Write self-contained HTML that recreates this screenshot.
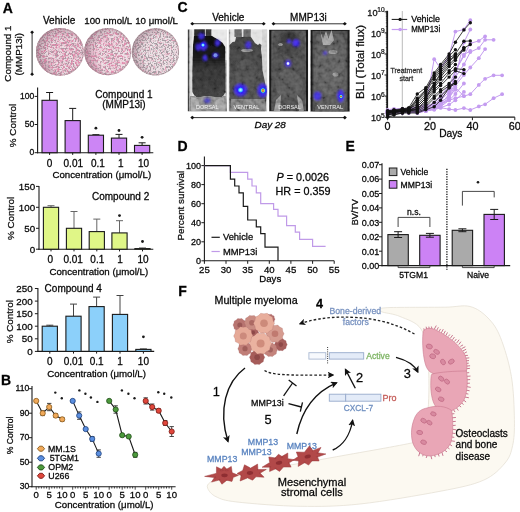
<!DOCTYPE html>
<html><head><meta charset="utf-8"><style>
html,body{margin:0;padding:0;background:#fff;}
svg{display:block;}
svg text{font-family:"Liberation Sans", sans-serif;}
</style></head><body>
<svg xmlns="http://www.w3.org/2000/svg" width="520" height="512" viewBox="0 0 520 512" font-family="&quot;Liberation Sans&quot;, sans-serif">
<rect width="520" height="512" fill="#fff"/>
<text x="2.8" y="12.6" font-size="14" stroke="#111" stroke-width="0.28" font-weight="bold">A</text>
<text x="59.1" y="23.5" font-size="10.0" text-anchor="middle" stroke="#111" stroke-width="0.28">Vehicle</text>
<text x="108.3" y="23.7" font-size="9.7" text-anchor="middle" stroke="#111" stroke-width="0.28">100 nmol/L</text>
<text x="156.6" y="23.7" font-size="9.7" text-anchor="middle" stroke="#111" stroke-width="0.28">10 &#956;mol/L</text>
<text transform="translate(11.3,53.6) rotate(-90)" font-size="9.8" text-anchor="middle" fill="#111" stroke="#111" stroke-width="0.28">Compound 1</text>
<text transform="translate(21.6,54.2) rotate(-90)" font-size="9.8" text-anchor="middle" fill="#111" stroke="#111" stroke-width="0.28">(MMP13i)</text>
<line x1="32.1" y1="32.3" x2="32.1" y2="74.2" stroke="#333" stroke-width="1.0"/>
<path d="M30.2,32.3 L32.1,30.5 L34,32.3 L32.1,34.1 Z" fill="#111"/>
<path d="M30.2,74.2 L32.1,72.4 L34,74.2 L32.1,76.0 Z" fill="#111"/>
<filter id="dsb1" x="-5%" y="-5%" width="110%" height="110%"><feGaussianBlur stdDeviation="0.55"/></filter>
<radialGradient id="dsh1" cx="0.62" cy="0.55" r="0.62"><stop offset="0.6" stop-color="#8a6a78" stop-opacity="0"/><stop offset="1" stop-color="#7a5a68" stop-opacity="0.45"/></radialGradient>
<g filter="url(#dsb1)">
<circle cx="59.9" cy="51.9" r="23.9" fill="#ecdfe4" stroke="none" stroke-width="1.0"/>
<filter id="dn1_0" filterUnits="userSpaceOnUse" x="34.0" y="26.0" width="51.8" height="51.8"><feTurbulence type="fractalNoise" baseFrequency="0.05" numOctaves="2" seed="4"/><feColorMatrix type="matrix" values="0 0 0 0 0.627 0 0 0 0 0.471 0 0 0 0 0.529 0 4 0 0 -2.15"/><feComposite operator="in" in2="SourceGraphic"/></filter>
<circle cx="59.9" cy="51.9" r="23.9" fill="#000" stroke="none" stroke-width="1.0" filter="url(#dn1_0)"/>
<filter id="dn1_1" filterUnits="userSpaceOnUse" x="34.0" y="26.0" width="51.8" height="51.8"><feTurbulence type="fractalNoise" baseFrequency="0.4" numOctaves="2" seed="33"/><feColorMatrix type="matrix" values="0 0 0 0 0.843 0 0 0 0 0.549 0 0 0 0 0.651 0 0 5 0 -2.15"/><feComposite operator="in" in2="SourceGraphic"/></filter>
<circle cx="59.9" cy="51.9" r="23.9" fill="#000" stroke="none" stroke-width="1.0" filter="url(#dn1_1)"/>
<filter id="dn1_2" filterUnits="userSpaceOnUse" x="34.0" y="26.0" width="51.8" height="51.8"><feTurbulence type="fractalNoise" baseFrequency="0.45" numOctaves="2" seed="3"/><feColorMatrix type="matrix" values="0 0 0 0 0.753 0 0 0 0 0.251 0 0 0 0 0.408 6 0 0 0 -2.95"/><feComposite operator="in" in2="SourceGraphic"/></filter>
<circle cx="59.9" cy="51.9" r="23.9" fill="#000" stroke="none" stroke-width="1.0" filter="url(#dn1_2)"/>
<filter id="dn1_3" filterUnits="userSpaceOnUse" x="34.0" y="26.0" width="51.8" height="51.8"><feTurbulence type="fractalNoise" baseFrequency="0.6" numOctaves="2" seed="13"/><feColorMatrix type="matrix" values="0 0 0 0 0.439 0 0 0 0 0.306 0 0 0 0 0.369 0 6 0 0 -3.0"/><feComposite operator="in" in2="SourceGraphic"/></filter>
<circle cx="59.9" cy="51.9" r="23.9" fill="#000" stroke="none" stroke-width="1.0" filter="url(#dn1_3)"/>
<circle cx="59.9" cy="51.9" r="23.9" fill="url(#dsh1)" stroke="none" stroke-width="1.0"/>
<circle cx="59.9" cy="51.9" r="23.299999999999997" fill="none" stroke="#9a8088" stroke-width="1.2" stroke-opacity="0.4"/>
</g>
<filter id="dsb2" x="-5%" y="-5%" width="110%" height="110%"><feGaussianBlur stdDeviation="0.55"/></filter>
<radialGradient id="dsh2" cx="0.62" cy="0.55" r="0.62"><stop offset="0.6" stop-color="#8a6a78" stop-opacity="0"/><stop offset="1" stop-color="#7a5a68" stop-opacity="0.45"/></radialGradient>
<g filter="url(#dsb2)">
<circle cx="107.8" cy="51.6" r="23.6" fill="#eee3e7" stroke="none" stroke-width="1.0"/>
<filter id="dn2_0" filterUnits="userSpaceOnUse" x="82.2" y="26.0" width="51.2" height="51.2"><feTurbulence type="fractalNoise" baseFrequency="0.05" numOctaves="2" seed="6"/><feColorMatrix type="matrix" values="0 0 0 0 0.831 0 0 0 0 0.471 0 0 0 0 0.608 4 0 0 0 -1.95"/><feComposite operator="in" in2="SourceGraphic"/></filter>
<circle cx="107.8" cy="51.6" r="23.6" fill="#000" stroke="none" stroke-width="1.0" filter="url(#dn2_0)"/>
<filter id="dn2_1" filterUnits="userSpaceOnUse" x="82.2" y="26.0" width="51.2" height="51.2"><feTurbulence type="fractalNoise" baseFrequency="0.4" numOctaves="2" seed="35"/><feColorMatrix type="matrix" values="0 0 0 0 0.855 0 0 0 0 0.580 0 0 0 0 0.675 0 0 5 0 -2.25"/><feComposite operator="in" in2="SourceGraphic"/></filter>
<circle cx="107.8" cy="51.6" r="23.6" fill="#000" stroke="none" stroke-width="1.0" filter="url(#dn2_1)"/>
<filter id="dn2_2" filterUnits="userSpaceOnUse" x="82.2" y="26.0" width="51.2" height="51.2"><feTurbulence type="fractalNoise" baseFrequency="0.45" numOctaves="2" seed="5"/><feColorMatrix type="matrix" values="0 0 0 0 0.761 0 0 0 0 0.267 0 0 0 0 0.424 6 0 0 0 -3.05"/><feComposite operator="in" in2="SourceGraphic"/></filter>
<circle cx="107.8" cy="51.6" r="23.6" fill="#000" stroke="none" stroke-width="1.0" filter="url(#dn2_2)"/>
<filter id="dn2_3" filterUnits="userSpaceOnUse" x="82.2" y="26.0" width="51.2" height="51.2"><feTurbulence type="fractalNoise" baseFrequency="0.6" numOctaves="2" seed="15"/><feColorMatrix type="matrix" values="0 0 0 0 0.455 0 0 0 0 0.329 0 0 0 0 0.384 0 6 0 0 -3.1"/><feComposite operator="in" in2="SourceGraphic"/></filter>
<circle cx="107.8" cy="51.6" r="23.6" fill="#000" stroke="none" stroke-width="1.0" filter="url(#dn2_3)"/>
<circle cx="107.8" cy="51.6" r="23.6" fill="url(#dsh2)" stroke="none" stroke-width="1.0"/>
<circle cx="107.8" cy="51.6" r="23.0" fill="none" stroke="#9a8088" stroke-width="1.2" stroke-opacity="0.4"/>
</g>
<filter id="dsb3" x="-5%" y="-5%" width="110%" height="110%"><feGaussianBlur stdDeviation="0.55"/></filter>
<radialGradient id="dsh3" cx="0.62" cy="0.55" r="0.62"><stop offset="0.6" stop-color="#8a6a78" stop-opacity="0"/><stop offset="1" stop-color="#7a5a68" stop-opacity="0.45"/></radialGradient>
<g filter="url(#dsb3)">
<circle cx="155.5" cy="51.9" r="23.6" fill="#eee6e9" stroke="none" stroke-width="1.0"/>
<filter id="dn3_0" filterUnits="userSpaceOnUse" x="129.9" y="26.3" width="51.2" height="51.2"><feTurbulence type="fractalNoise" baseFrequency="0.4" numOctaves="2" seed="38"/><feColorMatrix type="matrix" values="0 0 0 0 0.847 0 0 0 0 0.647 0 0 0 0 0.714 0 0 5 0 -2.35"/><feComposite operator="in" in2="SourceGraphic"/></filter>
<circle cx="155.5" cy="51.9" r="23.6" fill="#000" stroke="none" stroke-width="1.0" filter="url(#dn3_0)"/>
<filter id="dn3_1" filterUnits="userSpaceOnUse" x="129.9" y="26.3" width="51.2" height="51.2"><feTurbulence type="fractalNoise" baseFrequency="0.45" numOctaves="2" seed="8"/><feColorMatrix type="matrix" values="0 0 0 0 0.769 0 0 0 0 0.361 0 0 0 0 0.486 6 0 0 0 -3.35"/><feComposite operator="in" in2="SourceGraphic"/></filter>
<circle cx="155.5" cy="51.9" r="23.6" fill="#000" stroke="none" stroke-width="1.0" filter="url(#dn3_1)"/>
<filter id="dn3_2" filterUnits="userSpaceOnUse" x="129.9" y="26.3" width="51.2" height="51.2"><feTurbulence type="fractalNoise" baseFrequency="0.6" numOctaves="2" seed="18"/><feColorMatrix type="matrix" values="0 0 0 0 0.384 0 0 0 0 0.337 0 0 0 0 0.365 0 6 0 0 -2.85"/><feComposite operator="in" in2="SourceGraphic"/></filter>
<circle cx="155.5" cy="51.9" r="23.6" fill="#000" stroke="none" stroke-width="1.0" filter="url(#dn3_2)"/>
<circle cx="155.5" cy="51.9" r="23.6" fill="url(#dsh3)" stroke="none" stroke-width="1.0"/>
<circle cx="155.5" cy="51.9" r="23.0" fill="none" stroke="#9a8088" stroke-width="1.2" stroke-opacity="0.4"/>
</g>
<line x1="37.6" y1="87.5" x2="37.6" y2="153.2" stroke="#1a1a1a" stroke-width="1.1"/>
<line x1="37.1" y1="152.7" x2="153.3" y2="152.7" stroke="#1a1a1a" stroke-width="1.1"/>
<line x1="34.6" y1="152.7" x2="37.6" y2="152.7" stroke="#1a1a1a" stroke-width="1.0"/>
<text x="34.3" y="155.4" font-size="8.6" text-anchor="end" stroke="#111" stroke-width="0.28">0</text>
<line x1="34.6" y1="124.5" x2="37.6" y2="124.5" stroke="#1a1a1a" stroke-width="1.0"/>
<text x="34.3" y="127.2" font-size="8.6" text-anchor="end" stroke="#111" stroke-width="0.28">50</text>
<line x1="34.6" y1="96.4" x2="37.6" y2="96.4" stroke="#1a1a1a" stroke-width="1.0"/>
<text x="34.3" y="99.1" font-size="8.6" text-anchor="end" stroke="#111" stroke-width="0.28">100</text>
<line x1="49.6" y1="92.5" x2="49.6" y2="100.3" stroke="#1a1a1a" stroke-width="1.0"/>
<line x1="46.1" y1="92.5" x2="53.1" y2="92.5" stroke="#1a1a1a" stroke-width="1.0"/>
<rect x="42.0" y="100.3" width="15.2" height="52.4" fill="#cc85f5" stroke="#1a1a1a" stroke-width="1.1"/>
<line x1="49.6" y1="152.7" x2="49.6" y2="154.9" stroke="#1a1a1a" stroke-width="1.0"/>
<text x="49.6" y="166.5" font-size="10.0" text-anchor="middle" stroke="#111" stroke-width="0.28">0</text>
<line x1="72.7" y1="108.4" x2="72.7" y2="120.6" stroke="#1a1a1a" stroke-width="1.0"/>
<line x1="69.2" y1="108.4" x2="76.2" y2="108.4" stroke="#1a1a1a" stroke-width="1.0"/>
<rect x="65.1" y="120.6" width="15.2" height="32.1" fill="#cc85f5" stroke="#1a1a1a" stroke-width="1.1"/>
<line x1="72.7" y1="152.7" x2="72.7" y2="154.9" stroke="#1a1a1a" stroke-width="1.0"/>
<text x="73.3" y="166.5" font-size="10.0" text-anchor="middle" stroke="#111" stroke-width="0.28">0.01</text>
<line x1="95.9" y1="134.7" x2="95.9" y2="135.2" stroke="#1a1a1a" stroke-width="1.0"/>
<line x1="92.4" y1="134.7" x2="99.4" y2="134.7" stroke="#1a1a1a" stroke-width="1.0"/>
<rect x="88.3" y="135.2" width="15.2" height="17.5" fill="#cc85f5" stroke="#1a1a1a" stroke-width="1.1"/>
<line x1="95.9" y1="152.7" x2="95.9" y2="154.9" stroke="#1a1a1a" stroke-width="1.0"/>
<text x="97.9" y="166.5" font-size="10.0" text-anchor="middle" stroke="#111" stroke-width="0.28">0.1</text>
<circle cx="95.9" cy="128.2" r="1.4" fill="#1a1a1a" stroke="none" stroke-width="1.0"/>
<line x1="119.0" y1="134.4" x2="119.0" y2="138.1" stroke="#1a1a1a" stroke-width="1.0"/>
<line x1="115.5" y1="134.4" x2="122.5" y2="134.4" stroke="#1a1a1a" stroke-width="1.0"/>
<rect x="111.4" y="138.1" width="15.2" height="14.6" fill="#cc85f5" stroke="#1a1a1a" stroke-width="1.1"/>
<line x1="119.0" y1="152.7" x2="119.0" y2="154.9" stroke="#1a1a1a" stroke-width="1.0"/>
<text x="120.8" y="166.5" font-size="10.0" text-anchor="middle" stroke="#111" stroke-width="0.28">1</text>
<circle cx="119.0" cy="130.5" r="1.4" fill="#1a1a1a" stroke="none" stroke-width="1.0"/>
<line x1="142.1" y1="142.8" x2="142.1" y2="145.4" stroke="#1a1a1a" stroke-width="1.0"/>
<line x1="138.6" y1="142.8" x2="145.6" y2="142.8" stroke="#1a1a1a" stroke-width="1.0"/>
<rect x="134.5" y="145.4" width="15.2" height="7.3" fill="#cc85f5" stroke="#1a1a1a" stroke-width="1.1"/>
<line x1="142.1" y1="152.7" x2="142.1" y2="154.9" stroke="#1a1a1a" stroke-width="1.0"/>
<text x="143.5" y="166.5" font-size="10.0" text-anchor="middle" stroke="#111" stroke-width="0.28">10</text>
<circle cx="142.1" cy="137.3" r="1.4" fill="#1a1a1a" stroke="none" stroke-width="1.0"/>
<text x="101.8" y="177.5" font-size="9.7" text-anchor="middle" stroke="#111" stroke-width="0.28">Concentration (&#956;mol/L)</text>
<text transform="translate(15.7,125.5) rotate(-90)" font-size="9.9" text-anchor="middle" fill="#111" stroke="#111" stroke-width="0.28">% Control</text>
<text x="123.9" y="97.8" font-size="10.0" text-anchor="middle" stroke="#111" stroke-width="0.28">Compound 1</text>
<text x="123.9" y="108.2" font-size="10.0" text-anchor="middle" stroke="#111" stroke-width="0.28">(MMP13i)</text>
<line x1="39.0" y1="186.0" x2="39.0" y2="249.7" stroke="#1a1a1a" stroke-width="1.1"/>
<line x1="38.5" y1="249.2" x2="153.3" y2="249.2" stroke="#1a1a1a" stroke-width="1.1"/>
<line x1="36.0" y1="249.2" x2="39.0" y2="249.2" stroke="#1a1a1a" stroke-width="1.0"/>
<text x="35.2" y="252.6" font-size="9.8" text-anchor="end" stroke="#111" stroke-width="0.28">0</text>
<line x1="36.0" y1="228.3" x2="39.0" y2="228.3" stroke="#1a1a1a" stroke-width="1.0"/>
<text x="35.2" y="231.6" font-size="9.8" text-anchor="end" stroke="#111" stroke-width="0.28">50</text>
<line x1="36.0" y1="207.3" x2="39.0" y2="207.3" stroke="#1a1a1a" stroke-width="1.0"/>
<text x="35.2" y="210.7" font-size="9.8" text-anchor="end" stroke="#111" stroke-width="0.28">100</text>
<line x1="36.0" y1="186.4" x2="39.0" y2="186.4" stroke="#1a1a1a" stroke-width="1.0"/>
<text x="35.2" y="189.8" font-size="9.8" text-anchor="end" stroke="#111" stroke-width="0.28">150</text>
<line x1="51.0" y1="205.7" x2="51.0" y2="207.3" stroke="#666" stroke-width="1.0"/>
<line x1="47.5" y1="205.7" x2="54.5" y2="205.7" stroke="#666" stroke-width="1.0"/>
<rect x="43.4" y="207.3" width="15.2" height="41.9" fill="#e0f687" stroke="#1a1a1a" stroke-width="1.1"/>
<line x1="51.0" y1="249.2" x2="51.0" y2="251.4" stroke="#1a1a1a" stroke-width="1.0"/>
<text x="50.2" y="262.7" font-size="10.0" text-anchor="middle" stroke="#111" stroke-width="0.28">0</text>
<line x1="74.0" y1="211.5" x2="74.0" y2="228.3" stroke="#666" stroke-width="1.0"/>
<line x1="70.5" y1="211.5" x2="77.5" y2="211.5" stroke="#666" stroke-width="1.0"/>
<rect x="66.4" y="228.3" width="15.2" height="20.9" fill="#e0f687" stroke="#1a1a1a" stroke-width="1.1"/>
<line x1="74.0" y1="249.2" x2="74.0" y2="251.4" stroke="#1a1a1a" stroke-width="1.0"/>
<text x="73.2" y="262.7" font-size="10.0" text-anchor="middle" stroke="#111" stroke-width="0.28">0.01</text>
<line x1="96.8" y1="219.1" x2="96.8" y2="231.6" stroke="#666" stroke-width="1.0"/>
<line x1="93.3" y1="219.1" x2="100.3" y2="219.1" stroke="#666" stroke-width="1.0"/>
<rect x="89.2" y="231.6" width="15.2" height="17.6" fill="#e0f687" stroke="#1a1a1a" stroke-width="1.1"/>
<line x1="96.8" y1="249.2" x2="96.8" y2="251.4" stroke="#1a1a1a" stroke-width="1.0"/>
<text x="97.3" y="262.7" font-size="10.0" text-anchor="middle" stroke="#111" stroke-width="0.28">0.1</text>
<line x1="119.5" y1="220.7" x2="119.5" y2="232.9" stroke="#666" stroke-width="1.0"/>
<line x1="116.0" y1="220.7" x2="123.0" y2="220.7" stroke="#666" stroke-width="1.0"/>
<rect x="111.9" y="232.9" width="15.2" height="16.3" fill="#e0f687" stroke="#1a1a1a" stroke-width="1.1"/>
<line x1="119.5" y1="249.2" x2="119.5" y2="251.4" stroke="#1a1a1a" stroke-width="1.0"/>
<text x="120.0" y="262.7" font-size="10.0" text-anchor="middle" stroke="#111" stroke-width="0.28">1</text>
<circle cx="119.5" cy="215.6" r="1.4" fill="#1a1a1a" stroke="none" stroke-width="1.0"/>
<line x1="142.5" y1="247.9" x2="142.5" y2="248.6" stroke="#666" stroke-width="1.0"/>
<line x1="139.0" y1="247.9" x2="146.0" y2="247.9" stroke="#666" stroke-width="1.0"/>
<rect x="134.9" y="248.6" width="15.2" height="0.6" fill="#e0f687" stroke="#1a1a1a" stroke-width="1.1"/>
<line x1="142.5" y1="249.2" x2="142.5" y2="251.4" stroke="#1a1a1a" stroke-width="1.0"/>
<text x="143.0" y="262.7" font-size="10.0" text-anchor="middle" stroke="#111" stroke-width="0.28">10</text>
<circle cx="142.5" cy="241.5" r="1.4" fill="#1a1a1a" stroke="none" stroke-width="1.0"/>
<text x="98.8" y="274.5" font-size="9.7" text-anchor="middle" stroke="#111" stroke-width="0.28">Concentration (&#956;mol/L)</text>
<text transform="translate(13.7,218.4) rotate(-90)" font-size="9.9" text-anchor="middle" fill="#111" stroke="#111" stroke-width="0.28">% Control</text>
<text x="120.6" y="199.8" font-size="10.0" text-anchor="middle" stroke="#111" stroke-width="0.28">Compound 2</text>
<line x1="37.9" y1="288.0" x2="37.9" y2="351.9" stroke="#1a1a1a" stroke-width="1.1"/>
<line x1="37.4" y1="351.4" x2="154.2" y2="351.4" stroke="#1a1a1a" stroke-width="1.1"/>
<line x1="34.9" y1="351.4" x2="37.9" y2="351.4" stroke="#1a1a1a" stroke-width="1.0"/>
<text x="32.7" y="354.8" font-size="9.8" text-anchor="end" stroke="#111" stroke-width="0.28">0</text>
<line x1="34.9" y1="338.8" x2="37.9" y2="338.8" stroke="#1a1a1a" stroke-width="1.0"/>
<text x="32.7" y="342.2" font-size="9.8" text-anchor="end" stroke="#111" stroke-width="0.28">50</text>
<line x1="34.9" y1="326.2" x2="37.9" y2="326.2" stroke="#1a1a1a" stroke-width="1.0"/>
<text x="32.7" y="329.6" font-size="9.8" text-anchor="end" stroke="#111" stroke-width="0.28">100</text>
<line x1="34.9" y1="313.7" x2="37.9" y2="313.7" stroke="#1a1a1a" stroke-width="1.0"/>
<text x="32.7" y="317.0" font-size="9.8" text-anchor="end" stroke="#111" stroke-width="0.28">150</text>
<line x1="34.9" y1="301.1" x2="37.9" y2="301.1" stroke="#1a1a1a" stroke-width="1.0"/>
<text x="32.7" y="304.5" font-size="9.8" text-anchor="end" stroke="#111" stroke-width="0.28">200</text>
<line x1="34.9" y1="288.5" x2="37.9" y2="288.5" stroke="#1a1a1a" stroke-width="1.0"/>
<text x="32.7" y="291.9" font-size="9.8" text-anchor="end" stroke="#111" stroke-width="0.28">250</text>
<line x1="49.8" y1="325.2" x2="49.8" y2="326.2" stroke="#444" stroke-width="1.0"/>
<line x1="46.3" y1="325.2" x2="53.3" y2="325.2" stroke="#444" stroke-width="1.0"/>
<rect x="42.2" y="326.2" width="15.2" height="25.2" fill="#8cd0fa" stroke="#1a1a1a" stroke-width="1.1"/>
<line x1="49.8" y1="351.4" x2="49.8" y2="353.6" stroke="#1a1a1a" stroke-width="1.0"/>
<text x="49.8" y="364.7" font-size="10.0" text-anchor="middle" stroke="#111" stroke-width="0.28">0</text>
<line x1="73.5" y1="304.1" x2="73.5" y2="316.2" stroke="#444" stroke-width="1.0"/>
<line x1="70.0" y1="304.1" x2="77.0" y2="304.1" stroke="#444" stroke-width="1.0"/>
<rect x="65.9" y="316.2" width="15.2" height="35.2" fill="#8cd0fa" stroke="#1a1a1a" stroke-width="1.1"/>
<line x1="73.5" y1="351.4" x2="73.5" y2="353.6" stroke="#1a1a1a" stroke-width="1.0"/>
<text x="73.5" y="364.7" font-size="10.0" text-anchor="middle" stroke="#111" stroke-width="0.28">0.01</text>
<line x1="96.6" y1="297.1" x2="96.6" y2="306.6" stroke="#444" stroke-width="1.0"/>
<line x1="93.1" y1="297.1" x2="100.1" y2="297.1" stroke="#444" stroke-width="1.0"/>
<rect x="89.0" y="306.6" width="15.2" height="44.8" fill="#8cd0fa" stroke="#1a1a1a" stroke-width="1.1"/>
<line x1="96.6" y1="351.4" x2="96.6" y2="353.6" stroke="#1a1a1a" stroke-width="1.0"/>
<text x="96.6" y="364.7" font-size="10.0" text-anchor="middle" stroke="#111" stroke-width="0.28">0.1</text>
<line x1="120.0" y1="295.5" x2="120.0" y2="314.4" stroke="#444" stroke-width="1.0"/>
<line x1="116.5" y1="295.5" x2="123.5" y2="295.5" stroke="#444" stroke-width="1.0"/>
<rect x="112.4" y="314.4" width="15.2" height="37.0" fill="#8cd0fa" stroke="#1a1a1a" stroke-width="1.1"/>
<line x1="120.0" y1="351.4" x2="120.0" y2="353.6" stroke="#1a1a1a" stroke-width="1.0"/>
<text x="120.0" y="364.7" font-size="10.0" text-anchor="middle" stroke="#111" stroke-width="0.28">1</text>
<line x1="143.4" y1="348.9" x2="143.4" y2="349.4" stroke="#444" stroke-width="1.0"/>
<line x1="139.9" y1="348.9" x2="146.9" y2="348.9" stroke="#444" stroke-width="1.0"/>
<rect x="135.8" y="349.4" width="15.2" height="2.0" fill="#8cd0fa" stroke="#1a1a1a" stroke-width="1.1"/>
<line x1="143.4" y1="351.4" x2="143.4" y2="353.6" stroke="#1a1a1a" stroke-width="1.0"/>
<text x="143.4" y="364.7" font-size="10.0" text-anchor="middle" stroke="#111" stroke-width="0.28">10</text>
<circle cx="143.4" cy="336.8" r="1.4" fill="#1a1a1a" stroke="none" stroke-width="1.0"/>
<text x="96.6" y="377.0" font-size="9.7" text-anchor="middle" stroke="#111" stroke-width="0.28">Concentration (&#956;mol/L)</text>
<text transform="translate(13.3,321.7) rotate(-90)" font-size="9.9" text-anchor="middle" fill="#111" stroke="#111" stroke-width="0.28">% Control</text>
<text x="44.6" y="291.8" font-size="10.0" stroke="#111" stroke-width="0.28">Compound 4</text>
<text x="1.1" y="385.0" font-size="14" stroke="#111" stroke-width="0.28" font-weight="bold">B</text>
<line x1="32.0" y1="386.0" x2="32.0" y2="487.2" stroke="#1a1a1a" stroke-width="1.1"/>
<line x1="31.5" y1="486.7" x2="175.6" y2="486.7" stroke="#1a1a1a" stroke-width="1.1"/>
<line x1="29.0" y1="486.7" x2="32.0" y2="486.7" stroke="#1a1a1a" stroke-width="1.0"/>
<text x="29.3" y="489.2" font-size="8.6" text-anchor="end" stroke="#111" stroke-width="0.28">30</text>
<line x1="29.0" y1="462.2" x2="32.0" y2="462.2" stroke="#1a1a1a" stroke-width="1.0"/>
<text x="29.3" y="464.6" font-size="8.6" text-anchor="end" stroke="#111" stroke-width="0.28">50</text>
<line x1="29.0" y1="437.7" x2="32.0" y2="437.7" stroke="#1a1a1a" stroke-width="1.0"/>
<text x="29.3" y="440.1" font-size="8.6" text-anchor="end" stroke="#111" stroke-width="0.28">70</text>
<line x1="29.0" y1="413.2" x2="32.0" y2="413.2" stroke="#1a1a1a" stroke-width="1.0"/>
<text x="29.3" y="415.6" font-size="8.6" text-anchor="end" stroke="#111" stroke-width="0.28">90</text>
<line x1="29.0" y1="388.7" x2="32.0" y2="388.7" stroke="#1a1a1a" stroke-width="1.0"/>
<text x="29.3" y="391.1" font-size="8.6" text-anchor="end" stroke="#111" stroke-width="0.28">110</text>
<text transform="translate(12.7,435.4) rotate(-90)" font-size="8.6" text-anchor="middle" fill="#111" stroke="#111" stroke-width="0.28">% Control</text>
<line x1="36.2" y1="486.7" x2="36.2" y2="489.7" stroke="#1a1a1a" stroke-width="0.8"/>
<line x1="38.8" y1="486.7" x2="38.8" y2="488.5" stroke="#1a1a1a" stroke-width="0.8"/>
<line x1="41.4" y1="486.7" x2="41.4" y2="488.5" stroke="#1a1a1a" stroke-width="0.8"/>
<line x1="44.0" y1="486.7" x2="44.0" y2="488.5" stroke="#1a1a1a" stroke-width="0.8"/>
<line x1="46.6" y1="486.7" x2="46.6" y2="488.5" stroke="#1a1a1a" stroke-width="0.8"/>
<line x1="49.2" y1="486.7" x2="49.2" y2="489.7" stroke="#1a1a1a" stroke-width="0.8"/>
<line x1="51.8" y1="486.7" x2="51.8" y2="488.5" stroke="#1a1a1a" stroke-width="0.8"/>
<line x1="54.4" y1="486.7" x2="54.4" y2="488.5" stroke="#1a1a1a" stroke-width="0.8"/>
<line x1="57.0" y1="486.7" x2="57.0" y2="488.5" stroke="#1a1a1a" stroke-width="0.8"/>
<line x1="59.6" y1="486.7" x2="59.6" y2="488.5" stroke="#1a1a1a" stroke-width="0.8"/>
<line x1="62.2" y1="486.7" x2="62.2" y2="489.7" stroke="#1a1a1a" stroke-width="0.8"/>
<text x="36.2" y="497.5" font-size="9.6" text-anchor="middle" stroke="#111" stroke-width="0.28">0</text>
<text x="49.2" y="497.5" font-size="9.6" text-anchor="middle" stroke="#111" stroke-width="0.28">5</text>
<text x="62.2" y="497.5" font-size="9.6" text-anchor="middle" stroke="#111" stroke-width="0.28">10</text>
<line x1="72.7" y1="486.7" x2="72.7" y2="489.7" stroke="#1a1a1a" stroke-width="0.8"/>
<line x1="75.3" y1="486.7" x2="75.3" y2="488.5" stroke="#1a1a1a" stroke-width="0.8"/>
<line x1="77.9" y1="486.7" x2="77.9" y2="488.5" stroke="#1a1a1a" stroke-width="0.8"/>
<line x1="80.5" y1="486.7" x2="80.5" y2="488.5" stroke="#1a1a1a" stroke-width="0.8"/>
<line x1="83.1" y1="486.7" x2="83.1" y2="488.5" stroke="#1a1a1a" stroke-width="0.8"/>
<line x1="85.7" y1="486.7" x2="85.7" y2="489.7" stroke="#1a1a1a" stroke-width="0.8"/>
<line x1="88.3" y1="486.7" x2="88.3" y2="488.5" stroke="#1a1a1a" stroke-width="0.8"/>
<line x1="90.9" y1="486.7" x2="90.9" y2="488.5" stroke="#1a1a1a" stroke-width="0.8"/>
<line x1="93.5" y1="486.7" x2="93.5" y2="488.5" stroke="#1a1a1a" stroke-width="0.8"/>
<line x1="96.1" y1="486.7" x2="96.1" y2="488.5" stroke="#1a1a1a" stroke-width="0.8"/>
<line x1="98.7" y1="486.7" x2="98.7" y2="489.7" stroke="#1a1a1a" stroke-width="0.8"/>
<text x="72.7" y="497.5" font-size="9.6" text-anchor="middle" stroke="#111" stroke-width="0.28">0</text>
<text x="85.7" y="497.5" font-size="9.6" text-anchor="middle" stroke="#111" stroke-width="0.28">5</text>
<text x="98.7" y="497.5" font-size="9.6" text-anchor="middle" stroke="#111" stroke-width="0.28">10</text>
<line x1="109.2" y1="486.7" x2="109.2" y2="489.7" stroke="#1a1a1a" stroke-width="0.8"/>
<line x1="111.8" y1="486.7" x2="111.8" y2="488.5" stroke="#1a1a1a" stroke-width="0.8"/>
<line x1="114.4" y1="486.7" x2="114.4" y2="488.5" stroke="#1a1a1a" stroke-width="0.8"/>
<line x1="117.0" y1="486.7" x2="117.0" y2="488.5" stroke="#1a1a1a" stroke-width="0.8"/>
<line x1="119.6" y1="486.7" x2="119.6" y2="488.5" stroke="#1a1a1a" stroke-width="0.8"/>
<line x1="122.2" y1="486.7" x2="122.2" y2="489.7" stroke="#1a1a1a" stroke-width="0.8"/>
<line x1="124.8" y1="486.7" x2="124.8" y2="488.5" stroke="#1a1a1a" stroke-width="0.8"/>
<line x1="127.4" y1="486.7" x2="127.4" y2="488.5" stroke="#1a1a1a" stroke-width="0.8"/>
<line x1="130.0" y1="486.7" x2="130.0" y2="488.5" stroke="#1a1a1a" stroke-width="0.8"/>
<line x1="132.6" y1="486.7" x2="132.6" y2="488.5" stroke="#1a1a1a" stroke-width="0.8"/>
<line x1="135.2" y1="486.7" x2="135.2" y2="489.7" stroke="#1a1a1a" stroke-width="0.8"/>
<text x="109.2" y="497.5" font-size="9.6" text-anchor="middle" stroke="#111" stroke-width="0.28">0</text>
<text x="122.2" y="497.5" font-size="9.6" text-anchor="middle" stroke="#111" stroke-width="0.28">5</text>
<text x="135.2" y="497.5" font-size="9.6" text-anchor="middle" stroke="#111" stroke-width="0.28">10</text>
<line x1="145.7" y1="486.7" x2="145.7" y2="489.7" stroke="#1a1a1a" stroke-width="0.8"/>
<line x1="148.3" y1="486.7" x2="148.3" y2="488.5" stroke="#1a1a1a" stroke-width="0.8"/>
<line x1="150.9" y1="486.7" x2="150.9" y2="488.5" stroke="#1a1a1a" stroke-width="0.8"/>
<line x1="153.5" y1="486.7" x2="153.5" y2="488.5" stroke="#1a1a1a" stroke-width="0.8"/>
<line x1="156.1" y1="486.7" x2="156.1" y2="488.5" stroke="#1a1a1a" stroke-width="0.8"/>
<line x1="158.7" y1="486.7" x2="158.7" y2="489.7" stroke="#1a1a1a" stroke-width="0.8"/>
<line x1="161.3" y1="486.7" x2="161.3" y2="488.5" stroke="#1a1a1a" stroke-width="0.8"/>
<line x1="163.9" y1="486.7" x2="163.9" y2="488.5" stroke="#1a1a1a" stroke-width="0.8"/>
<line x1="166.5" y1="486.7" x2="166.5" y2="488.5" stroke="#1a1a1a" stroke-width="0.8"/>
<line x1="169.1" y1="486.7" x2="169.1" y2="488.5" stroke="#1a1a1a" stroke-width="0.8"/>
<line x1="171.7" y1="486.7" x2="171.7" y2="489.7" stroke="#1a1a1a" stroke-width="0.8"/>
<text x="145.7" y="497.5" font-size="9.6" text-anchor="middle" stroke="#111" stroke-width="0.28">0</text>
<text x="158.7" y="497.5" font-size="9.6" text-anchor="middle" stroke="#111" stroke-width="0.28">5</text>
<text x="171.7" y="497.5" font-size="9.6" text-anchor="middle" stroke="#111" stroke-width="0.28">10</text>
<text x="104.2" y="508.1" font-size="9.7" text-anchor="middle" stroke="#111" stroke-width="0.28">Concentration (&#956;mol/L)</text>
<polyline points="36.2,400.9 42.7,413.2 49.2,407.0 55.7,415.6 62.2,419.3" fill="none" stroke="#1a1a1a" stroke-width="1.1"/>
<line x1="42.7" y1="410.7" x2="42.7" y2="415.6" stroke="#333" stroke-width="0.9"/>
<line x1="40.5" y1="410.7" x2="44.9" y2="410.7" stroke="#333" stroke-width="0.9"/>
<line x1="40.5" y1="415.6" x2="44.9" y2="415.6" stroke="#333" stroke-width="0.9"/>
<line x1="49.2" y1="403.4" x2="49.2" y2="410.7" stroke="#333" stroke-width="0.9"/>
<line x1="47.0" y1="403.4" x2="51.4" y2="403.4" stroke="#333" stroke-width="0.9"/>
<line x1="47.0" y1="410.7" x2="51.4" y2="410.7" stroke="#333" stroke-width="0.9"/>
<line x1="55.7" y1="413.8" x2="55.7" y2="417.5" stroke="#333" stroke-width="0.9"/>
<line x1="53.5" y1="413.8" x2="57.9" y2="413.8" stroke="#333" stroke-width="0.9"/>
<line x1="53.5" y1="417.5" x2="57.9" y2="417.5" stroke="#333" stroke-width="0.9"/>
<line x1="62.2" y1="417.5" x2="62.2" y2="421.1" stroke="#333" stroke-width="0.9"/>
<line x1="60.0" y1="417.5" x2="64.4" y2="417.5" stroke="#333" stroke-width="0.9"/>
<line x1="60.0" y1="421.1" x2="64.4" y2="421.1" stroke="#333" stroke-width="0.9"/>
<circle cx="36.2" cy="400.9" r="2.6" fill="#f0a95a" stroke="#8a5a1a" stroke-width="0.8"/>
<circle cx="42.7" cy="413.2" r="2.6" fill="#f0a95a" stroke="#8a5a1a" stroke-width="0.8"/>
<circle cx="49.2" cy="407.0" r="2.6" fill="#f0a95a" stroke="#8a5a1a" stroke-width="0.8"/>
<circle cx="55.7" cy="415.6" r="2.6" fill="#f0a95a" stroke="#8a5a1a" stroke-width="0.8"/>
<circle cx="62.2" cy="419.3" r="2.6" fill="#f0a95a" stroke="#8a5a1a" stroke-width="0.8"/>
<circle cx="55.3" cy="392.6" r="1.2" fill="#1a1a1a" stroke="none" stroke-width="1.0"/>
<circle cx="61.8" cy="398.2" r="1.2" fill="#1a1a1a" stroke="none" stroke-width="1.0"/>
<polyline points="72.7,400.9 79.2,415.6 85.7,429.1 92.2,438.9 98.7,453.6" fill="none" stroke="#1a1a1a" stroke-width="1.1"/>
<line x1="79.2" y1="411.9" x2="79.2" y2="419.3" stroke="#333" stroke-width="0.9"/>
<line x1="77.0" y1="411.9" x2="81.4" y2="411.9" stroke="#333" stroke-width="0.9"/>
<line x1="77.0" y1="419.3" x2="81.4" y2="419.3" stroke="#333" stroke-width="0.9"/>
<line x1="92.2" y1="436.5" x2="92.2" y2="441.4" stroke="#333" stroke-width="0.9"/>
<line x1="90.0" y1="436.5" x2="94.4" y2="436.5" stroke="#333" stroke-width="0.9"/>
<line x1="90.0" y1="441.4" x2="94.4" y2="441.4" stroke="#333" stroke-width="0.9"/>
<line x1="98.7" y1="449.9" x2="98.7" y2="457.3" stroke="#333" stroke-width="0.9"/>
<line x1="96.5" y1="449.9" x2="100.9" y2="449.9" stroke="#333" stroke-width="0.9"/>
<line x1="96.5" y1="457.3" x2="100.9" y2="457.3" stroke="#333" stroke-width="0.9"/>
<circle cx="72.7" cy="400.9" r="2.6" fill="#5b8fe0" stroke="#1d3f7a" stroke-width="0.8"/>
<circle cx="79.2" cy="415.6" r="2.6" fill="#5b8fe0" stroke="#1d3f7a" stroke-width="0.8"/>
<circle cx="85.7" cy="429.1" r="2.6" fill="#5b8fe0" stroke="#1d3f7a" stroke-width="0.8"/>
<circle cx="92.2" cy="438.9" r="2.6" fill="#5b8fe0" stroke="#1d3f7a" stroke-width="0.8"/>
<circle cx="98.7" cy="453.6" r="2.6" fill="#5b8fe0" stroke="#1d3f7a" stroke-width="0.8"/>
<circle cx="79.4" cy="390.4" r="1.2" fill="#1a1a1a" stroke="none" stroke-width="1.0"/>
<circle cx="85.4" cy="393.8" r="1.2" fill="#1a1a1a" stroke="none" stroke-width="1.0"/>
<circle cx="90.9" cy="397.5" r="1.2" fill="#1a1a1a" stroke="none" stroke-width="1.0"/>
<circle cx="97.4" cy="401.9" r="1.2" fill="#1a1a1a" stroke="none" stroke-width="1.0"/>
<polyline points="109.2,400.9 115.7,409.5 122.2,435.2 128.7,436.5 135.2,454.8" fill="none" stroke="#1a1a1a" stroke-width="1.1"/>
<line x1="115.7" y1="405.8" x2="115.7" y2="413.2" stroke="#333" stroke-width="0.9"/>
<line x1="113.5" y1="405.8" x2="117.9" y2="405.8" stroke="#333" stroke-width="0.9"/>
<line x1="113.5" y1="413.2" x2="117.9" y2="413.2" stroke="#333" stroke-width="0.9"/>
<line x1="135.2" y1="452.4" x2="135.2" y2="457.3" stroke="#333" stroke-width="0.9"/>
<line x1="133.0" y1="452.4" x2="137.4" y2="452.4" stroke="#333" stroke-width="0.9"/>
<line x1="133.0" y1="457.3" x2="137.4" y2="457.3" stroke="#333" stroke-width="0.9"/>
<circle cx="109.2" cy="400.9" r="2.6" fill="#4c9a3c" stroke="#1f4a16" stroke-width="0.8"/>
<circle cx="115.7" cy="409.5" r="2.6" fill="#4c9a3c" stroke="#1f4a16" stroke-width="0.8"/>
<circle cx="122.2" cy="435.2" r="2.6" fill="#4c9a3c" stroke="#1f4a16" stroke-width="0.8"/>
<circle cx="128.7" cy="436.5" r="2.6" fill="#4c9a3c" stroke="#1f4a16" stroke-width="0.8"/>
<circle cx="135.2" cy="454.8" r="2.6" fill="#4c9a3c" stroke="#1f4a16" stroke-width="0.8"/>
<circle cx="121.9" cy="390.4" r="1.2" fill="#1a1a1a" stroke="none" stroke-width="1.0"/>
<circle cx="128.4" cy="393.8" r="1.2" fill="#1a1a1a" stroke="none" stroke-width="1.0"/>
<circle cx="134.5" cy="398.2" r="1.2" fill="#1a1a1a" stroke="none" stroke-width="1.0"/>
<polyline points="145.7,400.9 152.2,407.0 158.7,410.7 165.2,423.0 171.7,431.5" fill="none" stroke="#1a1a1a" stroke-width="1.1"/>
<line x1="145.7" y1="397.8" x2="145.7" y2="404.0" stroke="#333" stroke-width="0.9"/>
<line x1="143.5" y1="397.8" x2="147.9" y2="397.8" stroke="#333" stroke-width="0.9"/>
<line x1="143.5" y1="404.0" x2="147.9" y2="404.0" stroke="#333" stroke-width="0.9"/>
<line x1="152.2" y1="404.0" x2="152.2" y2="410.1" stroke="#333" stroke-width="0.9"/>
<line x1="150.0" y1="404.0" x2="154.4" y2="404.0" stroke="#333" stroke-width="0.9"/>
<line x1="150.0" y1="410.1" x2="154.4" y2="410.1" stroke="#333" stroke-width="0.9"/>
<line x1="158.7" y1="408.9" x2="158.7" y2="412.6" stroke="#333" stroke-width="0.9"/>
<line x1="156.5" y1="408.9" x2="160.9" y2="408.9" stroke="#333" stroke-width="0.9"/>
<line x1="156.5" y1="412.6" x2="160.9" y2="412.6" stroke="#333" stroke-width="0.9"/>
<line x1="165.2" y1="420.5" x2="165.2" y2="425.4" stroke="#333" stroke-width="0.9"/>
<line x1="163.0" y1="420.5" x2="167.4" y2="420.5" stroke="#333" stroke-width="0.9"/>
<line x1="163.0" y1="425.4" x2="167.4" y2="425.4" stroke="#333" stroke-width="0.9"/>
<line x1="171.7" y1="426.6" x2="171.7" y2="436.5" stroke="#333" stroke-width="0.9"/>
<line x1="169.5" y1="426.6" x2="173.9" y2="426.6" stroke="#333" stroke-width="0.9"/>
<line x1="169.5" y1="436.5" x2="173.9" y2="436.5" stroke="#333" stroke-width="0.9"/>
<circle cx="145.7" cy="400.9" r="2.6" fill="#e0473c" stroke="#7a1a14" stroke-width="0.8"/>
<circle cx="152.2" cy="407.0" r="2.6" fill="#e0473c" stroke="#7a1a14" stroke-width="0.8"/>
<circle cx="158.7" cy="410.7" r="2.6" fill="#e0473c" stroke="#7a1a14" stroke-width="0.8"/>
<circle cx="165.2" cy="423.0" r="2.6" fill="#e0473c" stroke="#7a1a14" stroke-width="0.8"/>
<circle cx="171.7" cy="431.5" r="2.6" fill="#e0473c" stroke="#7a1a14" stroke-width="0.8"/>
<circle cx="158.3" cy="392.3" r="1.2" fill="#1a1a1a" stroke="none" stroke-width="1.0"/>
<circle cx="164.2" cy="393.8" r="1.2" fill="#1a1a1a" stroke="none" stroke-width="1.0"/>
<circle cx="171.3" cy="397.5" r="1.2" fill="#1a1a1a" stroke="none" stroke-width="1.0"/>
<path d="M37.4,448.7 L39.6,446.2 L42.4,446.2 L44.6,448.7 L42.4,451.2 L39.6,451.2 Z" fill="#f0a95a" stroke="#8a5a1a" stroke-width="0.9"/>
<text x="48.0" y="451.7" font-size="8.8" stroke="#111" stroke-width="0.28">MM.1S</text>
<path d="M37.4,458.3 L39.6,455.8 L42.4,455.8 L44.6,458.3 L42.4,460.8 L39.6,460.8 Z" fill="#5b8fe0" stroke="#1d3f7a" stroke-width="0.9"/>
<text x="49.7" y="461.3" font-size="8.8" stroke="#111" stroke-width="0.28">5TGM1</text>
<path d="M37.4,467.4 L39.6,464.9 L42.4,464.9 L44.6,467.4 L42.4,469.9 L39.6,469.9 Z" fill="#4c9a3c" stroke="#1f4a16" stroke-width="0.9"/>
<text x="48.3" y="470.4" font-size="8.8" stroke="#111" stroke-width="0.28">OPM2</text>
<path d="M37.4,475.8 L39.6,473.3 L42.4,473.3 L44.6,475.8 L42.4,478.3 L39.6,478.3 Z" fill="#e0473c" stroke="#7a1a14" stroke-width="0.9"/>
<text x="48.3" y="478.8" font-size="8.8" stroke="#111" stroke-width="0.28">U266</text>
<text x="177.4" y="12.2" font-size="14" stroke="#111" stroke-width="0.28" font-weight="bold">C</text>
<text x="228.3" y="21.0" font-size="10.0" text-anchor="middle" stroke="#111" stroke-width="0.28">Vehicle</text>
<text x="308.4" y="20.6" font-size="10.0" text-anchor="middle" stroke="#111" stroke-width="0.28">MMP13i</text>
<line x1="192.3" y1="23.7" x2="263.7" y2="23.7" stroke="#333" stroke-width="1.0"/>
<path d="M190.3,23.7 L192.3,21.9 L194.3,23.7 L192.3,25.5 Z" fill="#111"/>
<path d="M261.7,23.7 L263.7,21.9 L265.7,23.7 L263.7,25.5 Z" fill="#111"/>
<line x1="273.5" y1="23.8" x2="344.8" y2="23.8" stroke="#333" stroke-width="1.0"/>
<path d="M271.5,23.8 L273.5,22.0 L275.5,23.8 L273.5,25.6 Z" fill="#111"/>
<path d="M342.8,23.8 L344.8,22.0 L346.8,23.8 L344.8,25.6 Z" fill="#111"/>
<line x1="192.3" y1="117.6" x2="344.8" y2="117.6" stroke="#333" stroke-width="1.0"/>
<path d="M190.3,117.6 L192.3,115.8 L194.3,117.6 L192.3,119.4 Z" fill="#111"/>
<path d="M342.8,117.6 L344.8,115.8 L346.8,117.6 L344.8,119.4 Z" fill="#111"/>
<text x="270.2" y="127.6" font-size="9.9" text-anchor="middle" stroke="#111" stroke-width="0.28" font-style="italic">Day 28</text>
<defs>
<filter id="bl1" x="-5%" y="-5%" width="110%" height="110%"><feGaussianBlur stdDeviation="0.7"/></filter>
<filter id="bl2" x="-50%" y="-50%" width="200%" height="200%"><feGaussianBlur stdDeviation="1.1"/></filter>
<radialGradient id="bblob"><stop offset="0" stop-color="#c8ffff"/><stop offset="0.3" stop-color="#40c8ff"/><stop offset="0.55" stop-color="#2020ff"/><stop offset="1" stop-color="#3010d0" stop-opacity="0"/></radialGradient>
<radialGradient id="bblob2"><stop offset="0" stop-color="#3a2cff"/><stop offset="0.7" stop-color="#3018e0" stop-opacity="0.9"/><stop offset="1" stop-color="#3010d0" stop-opacity="0"/></radialGradient>
<radialGradient id="bblob3"><stop offset="0" stop-color="#ffe040"/><stop offset="0.2" stop-color="#e03020"/><stop offset="0.35" stop-color="#60ff80"/><stop offset="0.55" stop-color="#2040ff"/><stop offset="1" stop-color="#3010d0" stop-opacity="0"/></radialGradient>
<radialGradient id="wblob"><stop offset="0" stop-color="#ffffff"/><stop offset="0.35" stop-color="#e0e8ff"/><stop offset="0.6" stop-color="#5050ff" stop-opacity="0.8"/><stop offset="1" stop-color="#3010d0" stop-opacity="0"/></radialGradient>
<linearGradient id="m1bg" x1="0" x2="1" y1="0" y2="0"><stop offset="0" stop-color="#4a4a4a"/><stop offset="0.07" stop-color="#5a5a5a"/><stop offset="0.1" stop-color="#d8d8d8"/><stop offset="0.9" stop-color="#dcdcdc"/><stop offset="1" stop-color="#c8c8c8"/></linearGradient>
<linearGradient id="m1body" x1="0" x2="0" y1="0" y2="1"><stop offset="0" stop-color="#0c0c0c"/><stop offset="0.35" stop-color="#181818"/><stop offset="0.5" stop-color="#2e2e2e"/><stop offset="0.85" stop-color="#383838"/><stop offset="1" stop-color="#3c3c3c"/></linearGradient>
<linearGradient id="m2body" x1="0" x2="0" y1="0" y2="1"><stop offset="0" stop-color="#3c3c3c"/><stop offset="0.5" stop-color="#444"/><stop offset="1" stop-color="#4c4c4c"/></linearGradient>
</defs>
<clipPath id="mc1"><rect x="187.6" y="29.3" width="39.5" height="82.2"/></clipPath>
<g clip-path="url(#mc1)"><g filter="url(#bl1)">
<rect x="187.6" y="29.3" width="39.5" height="82.2" fill="#e4e4e4" stroke="none" stroke-width="1.0"/>
<rect x="187.6" y="29.3" width="2.0" height="82.2" fill="#3c3c3c" stroke="none" stroke-width="1.0"/>
<rect x="189.6" y="29.3" width="2.2" height="82.2" fill="#cfcfcf" stroke="none" stroke-width="1.0"/>
<rect x="224.5" y="60.0" width="3.0" height="52.0" fill="#b8b8b8" stroke="none" stroke-width="1.0"/>
<rect x="194.2" y="28.3" width="10.7" height="8.0" fill="#262626" stroke="none" stroke-width="1.0"/>
<rect x="205.7" y="28.3" width="5.7" height="8.0" fill="#303030" stroke="none" stroke-width="1.0"/>
<path d="M194,36 L212,36 L218,39.5 L222.5,42.8 L225.2,47 L225.6,70 L225.6,92 L222,98 L196,98 L192.3,92 L192.3,70 L193,45 Z" fill="url(#m1body)"/>
<path d="M190,96 L226,96 L227.5,111.5 L189.5,111.5 Z" fill="#7e7e7e"/>
<path d="M191,97 L198,99 L201,111.5 L191,111.5 Z" fill="#9c9c9c"/>
<path d="M216,100 L224,97 L225,111.5 L214,111.5 Z" fill="#979797"/>
<path d="M196,92 C200,99 214,99 221,92 L222,97 L196,97 Z" fill="#3a3a3a"/>
<g filter="url(#bl2)">
<ellipse cx="201.5" cy="36" rx="3" ry="3.5" fill="#3c28e6" opacity="0.85"/>
<ellipse cx="198" cy="47" rx="2.5" ry="4" fill="#3c28e6" opacity="0.8"/>
<ellipse cx="203.5" cy="46" rx="4" ry="5" fill="#3c28e6" opacity="0.9"/>
<ellipse cx="205" cy="58" rx="2.2" ry="3.2" fill="#3c28e6" opacity="0.9"/>
<ellipse cx="217.5" cy="43" rx="2.6" ry="3.4" fill="#3c28e6" opacity="0.85"/>
<ellipse cx="215.5" cy="55.5" rx="3.4" ry="2.4" fill="#3c28e6" opacity="0.9"/>
<ellipse cx="207.3" cy="100.6" rx="3.2" ry="2.6" fill="#3a30c8" opacity="0.8"/>
</g>
<circle cx="203" cy="45" r="3.4" fill="url(#bblob)"/>
<circle cx="215.5" cy="55.3" r="2" fill="#8cb4ff" opacity="0.6"/>
</g></g>
<clipPath id="mc2"><rect x="228.6" y="29.3" width="38.7" height="82.2"/></clipPath>
<g clip-path="url(#mc2)"><g filter="url(#bl1)">
<rect x="228.6" y="29.3" width="38.7" height="82.2" fill="#dedede" stroke="none" stroke-width="1.0"/>
<rect x="228.6" y="29.3" width="1.6" height="82.2" fill="#a8a8a8" stroke="none" stroke-width="1.0"/>
<rect x="262.0" y="29.3" width="5.3" height="82.0" fill="#cdcdcd" stroke="none" stroke-width="1.0"/>
<rect x="234.4" y="28.3" width="7.4" height="8.7" fill="#5e5e5e" stroke="none" stroke-width="1.0"/>
<rect x="243.4" y="28.3" width="7.4" height="8.7" fill="#5e5e5e" stroke="none" stroke-width="1.0"/>
<path d="M236,37 L251,37 L255,43 L258,45 L259.5,43.5 L261.5,45 L261,49 L261.8,55 L262.5,70 L265.5,85 L266.5,96 L265,111.5 L229.6,111.5 L229.4,80 L229.5,45 L232.5,42 L235,41.5 Z" fill="url(#m2body)"/>
<ellipse cx="246" cy="75" rx="11" ry="16" fill="#4a4a4a" opacity="0.8"/>
<ellipse cx="247" cy="50.5" rx="6" ry="1.6" fill="#8c8c8c" opacity="0.9"/>
<path d="M231,99 L265,99 L266.5,111.5 L230,111.5 Z" fill="#747474"/>
<g filter="url(#bl2)">
<ellipse cx="248.3" cy="45" rx="3" ry="3.8" fill="#3c28e6" opacity="0.85"/>
<ellipse cx="240.5" cy="90" rx="6.8" ry="6.5" fill="#3c28e6" opacity="0.95"/>
<ellipse cx="262.5" cy="90.5" rx="5.2" ry="7" fill="#3c28e6" opacity="0.95"/>
</g>
<circle cx="240.5" cy="90" r="5" fill="url(#bblob)"/>
<circle cx="263" cy="90.5" r="4.6" fill="url(#bblob3)"/>
</g></g>
<clipPath id="mc3"><rect x="269.1" y="29.6" width="39.1" height="82.0"/></clipPath>
<g clip-path="url(#mc3)"><g filter="url(#bl1)">
<rect x="269.1" y="29.6" width="39.1" height="82.0" fill="#181818" stroke="none" stroke-width="1.0"/>
<rect x="271.3" y="30.6" width="34.7" height="80.0" fill="#525252" stroke="none" stroke-width="1.0"/>
<path d="M275,31 L302,31 L305,40 L305.5,60 L305.5,95 L304,111 L273,111 L272,95 L272.5,60 L273,40 Z" fill="#484848"/>
<g filter="url(#bl2)"><ellipse cx="289" cy="44" rx="11" ry="12" fill="#3c3c3c"/>
<ellipse cx="289" cy="37" rx="8" ry="5" fill="#303030"/></g>
<ellipse cx="289" cy="84" rx="14" ry="15" fill="#525252" opacity="0.9"/>
<path d="M276,100 L281,95 L280,111 L274,111 Z" fill="#8e8e8e"/>
<path d="M302,100 L297,95 L299,111 L304,111 Z" fill="#8e8e8e"/>
<ellipse cx="280.5" cy="44.5" rx="2.2" ry="1.6" fill="#a0a0a0" opacity="0.75"/>
<g filter="url(#bl2)">
<ellipse cx="296" cy="43" rx="3.6" ry="3.8" fill="#3c28f0" opacity="0.95"/>
<ellipse cx="289" cy="41.2" rx="2.2" ry="1.9" fill="#3c28f0" opacity="0.85"/>
<ellipse cx="288" cy="63.5" rx="3.4" ry="3.8" fill="#3c28f0" opacity="0.6"/>
</g>
<circle cx="288" cy="63.5" r="2.7" fill="url(#wblob)"/>
</g></g>
<clipPath id="mc4"><rect x="310.3" y="29.8" width="39.5" height="82.0"/></clipPath>
<g clip-path="url(#mc4)"><g filter="url(#bl1)">
<rect x="310.3" y="29.8" width="39.5" height="82.0" fill="#161616" stroke="none" stroke-width="1.0"/>
<rect x="312.5" y="30.8" width="35.1" height="80.0" fill="#474747" stroke="none" stroke-width="1.0"/>
<path d="M317,34 L343,34 L346,45 L346.5,70 L346,100 L344,111 L315,111 L314,100 L314,70 L314.5,45 Z" fill="#525252"/>
<path d="M320,30 L323,39 L326,31 L328.5,39 L331.5,30 L334,40 L330,45 L323,45 Z" fill="#a0a0a0" opacity="0.9"/>
<ellipse cx="330" cy="70" rx="14" ry="24" fill="#5c5c5c" opacity="0.7"/>
<ellipse cx="333" cy="52" rx="4.5" ry="2" fill="#a4a4a4" opacity="0.7"/>
<ellipse cx="335.5" cy="74.5" rx="3" ry="2" fill="#b0b0b0" opacity="0.6"/>
<g filter="url(#bl2)">
<ellipse cx="317.5" cy="96" rx="3.8" ry="4.2" fill="#3c28f0" opacity="0.85"/>
<ellipse cx="340.6" cy="96" rx="3.4" ry="6.2" fill="#3c28f0" opacity="0.95"/>
<ellipse cx="325" cy="53" rx="2.2" ry="2" fill="#3c28f0" opacity="0.6"/>
</g>
<circle cx="341" cy="96.5" r="3" fill="url(#bblob3)"/>
</g></g>
<filter id="fur" filterUnits="userSpaceOnUse" x="187" y="29" width="164" height="84"><feTurbulence type="fractalNoise" baseFrequency="0.45" numOctaves="2" seed="31"/><feColorMatrix type="matrix" values="0 0 0 0 0.5 0 0 0 0 0.5 0 0 0 0 0.5 0 0 0 0 0"/></filter>
<filter id="fur2" filterUnits="userSpaceOnUse" x="187" y="29" width="164" height="84"><feTurbulence type="fractalNoise" baseFrequency="0.22" numOctaves="2" seed="37"/><feColorMatrix type="matrix" values="1.6 0 0 0 -0.3 1.6 0 0 0 -0.3 1.6 0 0 0 -0.3 0 0 0 0 1"/><feComposite operator="in" in2="SourceGraphic"/></filter>
<rect x="187.6" y="29.3" width="39.5" height="82.2" fill="#000" filter="url(#fur2)" style="mix-blend-mode:overlay" opacity="0.3"/>
<rect x="228.6" y="29.3" width="38.7" height="82.2" fill="#000" filter="url(#fur2)" style="mix-blend-mode:overlay" opacity="0.3"/>
<rect x="269.1" y="29.6" width="39.1" height="82.0" fill="#000" filter="url(#fur2)" style="mix-blend-mode:overlay" opacity="0.3"/>
<rect x="310.3" y="29.8" width="39.5" height="82.0" fill="#000" filter="url(#fur2)" style="mix-blend-mode:overlay" opacity="0.3"/>
<text x="207.3" y="108.7" font-size="5.5" text-anchor="middle" fill="#f6f6f6" font-weight="normal">DORSAL</text>
<text x="246.5" y="108.7" font-size="5.6" text-anchor="middle" fill="#f6f6f6" font-weight="normal">VENTRAL</text>
<text x="289.5" y="108.5" font-size="5.5" text-anchor="middle" fill="#f0f0f0" font-weight="normal">DORSAL</text>
<text x="330.2" y="108.6" font-size="5.6" text-anchor="middle" fill="#f0f0f0" font-weight="normal">VENTRAL</text>
<text transform="translate(363.6,62.0) rotate(-90)" font-size="11.6" text-anchor="middle" fill="#111" stroke="#111" stroke-width="0.28">BLI (Total flux)</text>
<line x1="387.2" y1="10.8" x2="387.2" y2="117.7" stroke="#1a1a1a" stroke-width="1.8"/>
<line x1="387.1" y1="117.2" x2="514.8" y2="117.2" stroke="#1a1a1a" stroke-width="1.2"/>
<line x1="384.5" y1="117.2" x2="387.6" y2="117.2" stroke="#1a1a1a" stroke-width="1.0"/>
<text x="381.2" y="121.0" font-size="9.2" text-anchor="end" fill="#111" stroke="#111" stroke-width="0.28">10</text>
<text x="384.6" y="117.5" font-size="6.6" text-anchor="end" fill="#111" stroke="#111" stroke-width="0.22">5</text>
<line x1="385.8" y1="110.9" x2="387.6" y2="110.9" stroke="#1a1a1a" stroke-width="0.6"/>
<line x1="385.8" y1="107.1" x2="387.6" y2="107.1" stroke="#1a1a1a" stroke-width="0.6"/>
<line x1="385.8" y1="104.5" x2="387.6" y2="104.5" stroke="#1a1a1a" stroke-width="0.6"/>
<line x1="385.8" y1="102.5" x2="387.6" y2="102.5" stroke="#1a1a1a" stroke-width="0.6"/>
<line x1="385.8" y1="100.8" x2="387.6" y2="100.8" stroke="#1a1a1a" stroke-width="0.6"/>
<line x1="385.8" y1="99.4" x2="387.6" y2="99.4" stroke="#1a1a1a" stroke-width="0.6"/>
<line x1="385.8" y1="98.2" x2="387.6" y2="98.2" stroke="#1a1a1a" stroke-width="0.6"/>
<line x1="385.8" y1="97.1" x2="387.6" y2="97.1" stroke="#1a1a1a" stroke-width="0.6"/>
<line x1="384.5" y1="96.1" x2="387.6" y2="96.1" stroke="#1a1a1a" stroke-width="1.0"/>
<text x="381.2" y="99.9" font-size="9.2" text-anchor="end" fill="#111" stroke="#111" stroke-width="0.28">10</text>
<text x="384.6" y="96.5" font-size="6.6" text-anchor="end" fill="#111" stroke="#111" stroke-width="0.22">6</text>
<line x1="385.8" y1="89.8" x2="387.6" y2="89.8" stroke="#1a1a1a" stroke-width="0.6"/>
<line x1="385.8" y1="86.1" x2="387.6" y2="86.1" stroke="#1a1a1a" stroke-width="0.6"/>
<line x1="385.8" y1="83.4" x2="387.6" y2="83.4" stroke="#1a1a1a" stroke-width="0.6"/>
<line x1="385.8" y1="81.4" x2="387.6" y2="81.4" stroke="#1a1a1a" stroke-width="0.6"/>
<line x1="385.8" y1="79.7" x2="387.6" y2="79.7" stroke="#1a1a1a" stroke-width="0.6"/>
<line x1="385.8" y1="78.3" x2="387.6" y2="78.3" stroke="#1a1a1a" stroke-width="0.6"/>
<line x1="385.8" y1="77.1" x2="387.6" y2="77.1" stroke="#1a1a1a" stroke-width="0.6"/>
<line x1="385.8" y1="76.0" x2="387.6" y2="76.0" stroke="#1a1a1a" stroke-width="0.6"/>
<line x1="384.5" y1="75.0" x2="387.6" y2="75.0" stroke="#1a1a1a" stroke-width="1.0"/>
<text x="381.2" y="78.8" font-size="9.2" text-anchor="end" fill="#111" stroke="#111" stroke-width="0.28">10</text>
<text x="384.6" y="75.4" font-size="6.6" text-anchor="end" fill="#111" stroke="#111" stroke-width="0.22">7</text>
<line x1="385.8" y1="68.7" x2="387.6" y2="68.7" stroke="#1a1a1a" stroke-width="0.6"/>
<line x1="385.8" y1="65.0" x2="387.6" y2="65.0" stroke="#1a1a1a" stroke-width="0.6"/>
<line x1="385.8" y1="62.3" x2="387.6" y2="62.3" stroke="#1a1a1a" stroke-width="0.6"/>
<line x1="385.8" y1="60.3" x2="387.6" y2="60.3" stroke="#1a1a1a" stroke-width="0.6"/>
<line x1="385.8" y1="58.6" x2="387.6" y2="58.6" stroke="#1a1a1a" stroke-width="0.6"/>
<line x1="385.8" y1="57.2" x2="387.6" y2="57.2" stroke="#1a1a1a" stroke-width="0.6"/>
<line x1="385.8" y1="56.0" x2="387.6" y2="56.0" stroke="#1a1a1a" stroke-width="0.6"/>
<line x1="385.8" y1="54.9" x2="387.6" y2="54.9" stroke="#1a1a1a" stroke-width="0.6"/>
<line x1="384.5" y1="54.0" x2="387.6" y2="54.0" stroke="#1a1a1a" stroke-width="1.0"/>
<text x="381.2" y="57.7" font-size="9.2" text-anchor="end" fill="#111" stroke="#111" stroke-width="0.28">10</text>
<text x="384.6" y="54.3" font-size="6.6" text-anchor="end" fill="#111" stroke="#111" stroke-width="0.22">8</text>
<line x1="385.8" y1="47.6" x2="387.6" y2="47.6" stroke="#1a1a1a" stroke-width="0.6"/>
<line x1="385.8" y1="43.9" x2="387.6" y2="43.9" stroke="#1a1a1a" stroke-width="0.6"/>
<line x1="385.8" y1="41.3" x2="387.6" y2="41.3" stroke="#1a1a1a" stroke-width="0.6"/>
<line x1="385.8" y1="39.2" x2="387.6" y2="39.2" stroke="#1a1a1a" stroke-width="0.6"/>
<line x1="385.8" y1="37.6" x2="387.6" y2="37.6" stroke="#1a1a1a" stroke-width="0.6"/>
<line x1="385.8" y1="36.1" x2="387.6" y2="36.1" stroke="#1a1a1a" stroke-width="0.6"/>
<line x1="385.8" y1="34.9" x2="387.6" y2="34.9" stroke="#1a1a1a" stroke-width="0.6"/>
<line x1="385.8" y1="33.8" x2="387.6" y2="33.8" stroke="#1a1a1a" stroke-width="0.6"/>
<line x1="384.5" y1="32.9" x2="387.6" y2="32.9" stroke="#1a1a1a" stroke-width="1.0"/>
<text x="381.2" y="36.6" font-size="9.2" text-anchor="end" fill="#111" stroke="#111" stroke-width="0.28">10</text>
<text x="384.6" y="33.2" font-size="6.6" text-anchor="end" fill="#111" stroke="#111" stroke-width="0.22">9</text>
<line x1="385.8" y1="26.5" x2="387.6" y2="26.5" stroke="#1a1a1a" stroke-width="0.6"/>
<line x1="385.8" y1="22.8" x2="387.6" y2="22.8" stroke="#1a1a1a" stroke-width="0.6"/>
<line x1="385.8" y1="20.2" x2="387.6" y2="20.2" stroke="#1a1a1a" stroke-width="0.6"/>
<line x1="385.8" y1="18.1" x2="387.6" y2="18.1" stroke="#1a1a1a" stroke-width="0.6"/>
<line x1="385.8" y1="16.5" x2="387.6" y2="16.5" stroke="#1a1a1a" stroke-width="0.6"/>
<line x1="385.8" y1="15.1" x2="387.6" y2="15.1" stroke="#1a1a1a" stroke-width="0.6"/>
<line x1="385.8" y1="13.8" x2="387.6" y2="13.8" stroke="#1a1a1a" stroke-width="0.6"/>
<line x1="385.8" y1="12.8" x2="387.6" y2="12.8" stroke="#1a1a1a" stroke-width="0.6"/>
<line x1="384.5" y1="11.8" x2="387.6" y2="11.8" stroke="#1a1a1a" stroke-width="1.0"/>
<text x="377.6" y="15.6" font-size="9.2" text-anchor="end" fill="#111" stroke="#111" stroke-width="0.28">10</text>
<text x="384.6" y="12.1" font-size="6.6" text-anchor="end" fill="#111" stroke="#111" stroke-width="0.22">10</text>
<line x1="387.6" y1="117.2" x2="387.6" y2="120.2" stroke="#1a1a1a" stroke-width="1.0"/>
<text x="387.6" y="129.9" font-size="10.8" text-anchor="middle" stroke="#111" stroke-width="0.28">0</text>
<line x1="430.0" y1="117.2" x2="430.0" y2="120.2" stroke="#1a1a1a" stroke-width="1.0"/>
<text x="430.0" y="129.9" font-size="10.8" text-anchor="middle" stroke="#111" stroke-width="0.28">20</text>
<line x1="472.4" y1="117.2" x2="472.4" y2="120.2" stroke="#1a1a1a" stroke-width="1.0"/>
<text x="472.4" y="129.9" font-size="10.8" text-anchor="middle" stroke="#111" stroke-width="0.28">40</text>
<line x1="514.8" y1="117.2" x2="514.8" y2="120.2" stroke="#1a1a1a" stroke-width="1.0"/>
<text x="514.8" y="129.9" font-size="10.8" text-anchor="middle" stroke="#111" stroke-width="0.28">60</text>
<text x="450.8" y="136.9" font-size="10.2" text-anchor="middle" stroke="#111" stroke-width="0.28">Days</text>
<line x1="402.3" y1="11.0" x2="402.3" y2="117.0" stroke="#8c8c8c" stroke-width="0.6"/>
<text x="406.3" y="73.0" font-size="7.0" text-anchor="middle" fill="#333" stroke="#333" stroke-width="0.28">Treatment</text>
<text x="406.3" y="81.2" font-size="7.0" text-anchor="middle" fill="#333" stroke="#333" stroke-width="0.28">start</text>
<polyline points="387.6,110.9 394.0,109.8 402.4,108.8 408.8,108.8 417.3,106.7 425.8,104.6 434.2,59.2 440.6,68.7 449.1,56.1 455.4,31.6 463.9,29.5 470.3,20.2" fill="none" stroke="#c49cf0" stroke-width="1.0" stroke-opacity="1.0"/>
<circle cx="387.6" cy="110.9" r="1.9" fill="#c49cf0" fill-opacity="1.0"/>
<circle cx="394.0" cy="109.8" r="1.9" fill="#c49cf0" fill-opacity="1.0"/>
<circle cx="402.4" cy="108.8" r="1.9" fill="#c49cf0" fill-opacity="1.0"/>
<circle cx="408.8" cy="108.8" r="1.9" fill="#c49cf0" fill-opacity="1.0"/>
<circle cx="417.3" cy="106.7" r="1.9" fill="#c49cf0" fill-opacity="1.0"/>
<circle cx="425.8" cy="104.6" r="1.9" fill="#c49cf0" fill-opacity="1.0"/>
<circle cx="434.2" cy="59.2" r="1.9" fill="#c49cf0" fill-opacity="1.0"/>
<circle cx="440.6" cy="68.7" r="1.9" fill="#c49cf0" fill-opacity="1.0"/>
<circle cx="449.1" cy="56.1" r="1.9" fill="#c49cf0" fill-opacity="1.0"/>
<circle cx="455.4" cy="31.6" r="1.9" fill="#c49cf0" fill-opacity="1.0"/>
<circle cx="463.9" cy="29.5" r="1.9" fill="#c49cf0" fill-opacity="1.0"/>
<circle cx="470.3" cy="20.2" r="1.9" fill="#c49cf0" fill-opacity="1.0"/>
<polyline points="387.6,113.0 394.0,110.9 402.4,110.9 408.8,109.8 417.3,108.8 425.8,106.7 434.2,102.4 440.6,96.1 449.1,85.6 455.4,70.8 463.9,56.1 470.3,43.4 478.8,40.9 485.1,36.3" fill="none" stroke="#c49cf0" stroke-width="1.0" stroke-opacity="1.0"/>
<circle cx="387.6" cy="113.0" r="1.9" fill="#c49cf0" fill-opacity="1.0"/>
<circle cx="394.0" cy="110.9" r="1.9" fill="#c49cf0" fill-opacity="1.0"/>
<circle cx="402.4" cy="110.9" r="1.9" fill="#c49cf0" fill-opacity="1.0"/>
<circle cx="408.8" cy="109.8" r="1.9" fill="#c49cf0" fill-opacity="1.0"/>
<circle cx="417.3" cy="108.8" r="1.9" fill="#c49cf0" fill-opacity="1.0"/>
<circle cx="425.8" cy="106.7" r="1.9" fill="#c49cf0" fill-opacity="1.0"/>
<circle cx="434.2" cy="102.4" r="1.9" fill="#c49cf0" fill-opacity="1.0"/>
<circle cx="440.6" cy="96.1" r="1.9" fill="#c49cf0" fill-opacity="1.0"/>
<circle cx="449.1" cy="85.6" r="1.9" fill="#c49cf0" fill-opacity="1.0"/>
<circle cx="455.4" cy="70.8" r="1.9" fill="#c49cf0" fill-opacity="1.0"/>
<circle cx="463.9" cy="56.1" r="1.9" fill="#c49cf0" fill-opacity="1.0"/>
<circle cx="470.3" cy="43.4" r="1.9" fill="#c49cf0" fill-opacity="1.0"/>
<circle cx="478.8" cy="40.9" r="1.9" fill="#c49cf0" fill-opacity="1.0"/>
<circle cx="485.1" cy="36.3" r="1.9" fill="#c49cf0" fill-opacity="1.0"/>
<polyline points="387.6,111.9 394.0,110.9 402.4,110.9 408.8,110.9 417.3,109.8 425.8,108.8 434.2,104.6 440.6,98.2 449.1,89.8 455.4,77.1 463.9,64.5 470.3,52.1 478.8,48.1 485.1,39.8 493.6,39.8" fill="none" stroke="#c49cf0" stroke-width="1.0" stroke-opacity="1.0"/>
<circle cx="387.6" cy="111.9" r="1.9" fill="#c49cf0" fill-opacity="1.0"/>
<circle cx="394.0" cy="110.9" r="1.9" fill="#c49cf0" fill-opacity="1.0"/>
<circle cx="402.4" cy="110.9" r="1.9" fill="#c49cf0" fill-opacity="1.0"/>
<circle cx="408.8" cy="110.9" r="1.9" fill="#c49cf0" fill-opacity="1.0"/>
<circle cx="417.3" cy="109.8" r="1.9" fill="#c49cf0" fill-opacity="1.0"/>
<circle cx="425.8" cy="108.8" r="1.9" fill="#c49cf0" fill-opacity="1.0"/>
<circle cx="434.2" cy="104.6" r="1.9" fill="#c49cf0" fill-opacity="1.0"/>
<circle cx="440.6" cy="98.2" r="1.9" fill="#c49cf0" fill-opacity="1.0"/>
<circle cx="449.1" cy="89.8" r="1.9" fill="#c49cf0" fill-opacity="1.0"/>
<circle cx="455.4" cy="77.1" r="1.9" fill="#c49cf0" fill-opacity="1.0"/>
<circle cx="463.9" cy="64.5" r="1.9" fill="#c49cf0" fill-opacity="1.0"/>
<circle cx="470.3" cy="52.1" r="1.9" fill="#c49cf0" fill-opacity="1.0"/>
<circle cx="478.8" cy="48.1" r="1.9" fill="#c49cf0" fill-opacity="1.0"/>
<circle cx="485.1" cy="39.8" r="1.9" fill="#c49cf0" fill-opacity="1.0"/>
<circle cx="493.6" cy="39.8" r="1.9" fill="#c49cf0" fill-opacity="1.0"/>
<polyline points="387.6,110.9 394.0,110.9 402.4,109.8 408.8,110.9 417.3,110.9 425.8,108.8 434.2,106.7 440.6,102.4 449.1,96.1 455.4,85.6 463.9,75.0 470.3,67.5 478.8,58.2 485.1,49.1" fill="none" stroke="#c49cf0" stroke-width="1.0" stroke-opacity="1.0"/>
<circle cx="387.6" cy="110.9" r="1.9" fill="#c49cf0" fill-opacity="1.0"/>
<circle cx="394.0" cy="110.9" r="1.9" fill="#c49cf0" fill-opacity="1.0"/>
<circle cx="402.4" cy="109.8" r="1.9" fill="#c49cf0" fill-opacity="1.0"/>
<circle cx="408.8" cy="110.9" r="1.9" fill="#c49cf0" fill-opacity="1.0"/>
<circle cx="417.3" cy="110.9" r="1.9" fill="#c49cf0" fill-opacity="1.0"/>
<circle cx="425.8" cy="108.8" r="1.9" fill="#c49cf0" fill-opacity="1.0"/>
<circle cx="434.2" cy="106.7" r="1.9" fill="#c49cf0" fill-opacity="1.0"/>
<circle cx="440.6" cy="102.4" r="1.9" fill="#c49cf0" fill-opacity="1.0"/>
<circle cx="449.1" cy="96.1" r="1.9" fill="#c49cf0" fill-opacity="1.0"/>
<circle cx="455.4" cy="85.6" r="1.9" fill="#c49cf0" fill-opacity="1.0"/>
<circle cx="463.9" cy="75.0" r="1.9" fill="#c49cf0" fill-opacity="1.0"/>
<circle cx="470.3" cy="67.5" r="1.9" fill="#c49cf0" fill-opacity="1.0"/>
<circle cx="478.8" cy="58.2" r="1.9" fill="#c49cf0" fill-opacity="1.0"/>
<circle cx="485.1" cy="49.1" r="1.9" fill="#c49cf0" fill-opacity="1.0"/>
<polyline points="387.6,113.0 394.0,111.9 402.4,110.9 408.8,110.9 417.3,110.9 425.8,108.8 434.2,106.7 440.6,104.6 449.1,100.3 455.4,98.2 463.9,96.1 470.3,94.2 478.8,84.9 485.1,78.8 493.6,75.3 502.1,75.3" fill="none" stroke="#c49cf0" stroke-width="1.0" stroke-opacity="1.0"/>
<circle cx="387.6" cy="113.0" r="1.9" fill="#c49cf0" fill-opacity="1.0"/>
<circle cx="394.0" cy="111.9" r="1.9" fill="#c49cf0" fill-opacity="1.0"/>
<circle cx="402.4" cy="110.9" r="1.9" fill="#c49cf0" fill-opacity="1.0"/>
<circle cx="408.8" cy="110.9" r="1.9" fill="#c49cf0" fill-opacity="1.0"/>
<circle cx="417.3" cy="110.9" r="1.9" fill="#c49cf0" fill-opacity="1.0"/>
<circle cx="425.8" cy="108.8" r="1.9" fill="#c49cf0" fill-opacity="1.0"/>
<circle cx="434.2" cy="106.7" r="1.9" fill="#c49cf0" fill-opacity="1.0"/>
<circle cx="440.6" cy="104.6" r="1.9" fill="#c49cf0" fill-opacity="1.0"/>
<circle cx="449.1" cy="100.3" r="1.9" fill="#c49cf0" fill-opacity="1.0"/>
<circle cx="455.4" cy="98.2" r="1.9" fill="#c49cf0" fill-opacity="1.0"/>
<circle cx="463.9" cy="96.1" r="1.9" fill="#c49cf0" fill-opacity="1.0"/>
<circle cx="470.3" cy="94.2" r="1.9" fill="#c49cf0" fill-opacity="1.0"/>
<circle cx="478.8" cy="84.9" r="1.9" fill="#c49cf0" fill-opacity="1.0"/>
<circle cx="485.1" cy="78.8" r="1.9" fill="#c49cf0" fill-opacity="1.0"/>
<circle cx="493.6" cy="75.3" r="1.9" fill="#c49cf0" fill-opacity="1.0"/>
<circle cx="502.1" cy="75.3" r="1.9" fill="#c49cf0" fill-opacity="1.0"/>
<polyline points="387.6,111.9 394.0,113.0 402.4,110.9 408.8,110.9 417.3,110.9 425.8,109.8 434.2,108.8 440.6,107.7 449.1,109.2 455.4,110.0 463.9,108.1 470.3,110.0 478.8,106.4 485.1,104.3 493.6,98.2 502.1,94.2" fill="none" stroke="#c49cf0" stroke-width="1.0" stroke-opacity="1.0"/>
<circle cx="387.6" cy="111.9" r="1.9" fill="#c49cf0" fill-opacity="1.0"/>
<circle cx="394.0" cy="113.0" r="1.9" fill="#c49cf0" fill-opacity="1.0"/>
<circle cx="402.4" cy="110.9" r="1.9" fill="#c49cf0" fill-opacity="1.0"/>
<circle cx="408.8" cy="110.9" r="1.9" fill="#c49cf0" fill-opacity="1.0"/>
<circle cx="417.3" cy="110.9" r="1.9" fill="#c49cf0" fill-opacity="1.0"/>
<circle cx="425.8" cy="109.8" r="1.9" fill="#c49cf0" fill-opacity="1.0"/>
<circle cx="434.2" cy="108.8" r="1.9" fill="#c49cf0" fill-opacity="1.0"/>
<circle cx="440.6" cy="107.7" r="1.9" fill="#c49cf0" fill-opacity="1.0"/>
<circle cx="449.1" cy="109.2" r="1.9" fill="#c49cf0" fill-opacity="1.0"/>
<circle cx="455.4" cy="110.0" r="1.9" fill="#c49cf0" fill-opacity="1.0"/>
<circle cx="463.9" cy="108.1" r="1.9" fill="#c49cf0" fill-opacity="1.0"/>
<circle cx="470.3" cy="110.0" r="1.9" fill="#c49cf0" fill-opacity="1.0"/>
<circle cx="478.8" cy="106.4" r="1.9" fill="#c49cf0" fill-opacity="1.0"/>
<circle cx="485.1" cy="104.3" r="1.9" fill="#c49cf0" fill-opacity="1.0"/>
<circle cx="493.6" cy="98.2" r="1.9" fill="#c49cf0" fill-opacity="1.0"/>
<circle cx="502.1" cy="94.2" r="1.9" fill="#c49cf0" fill-opacity="1.0"/>
<polyline points="387.6,113.0 394.0,113.0 402.4,111.9 408.8,110.9 417.3,110.9 425.8,109.8 434.2,108.8 440.6,104.6 449.1,98.2 455.4,87.7 463.9,96.1" fill="none" stroke="#c49cf0" stroke-width="1.0" stroke-opacity="1.0"/>
<circle cx="387.6" cy="113.0" r="1.9" fill="#c49cf0" fill-opacity="1.0"/>
<circle cx="394.0" cy="113.0" r="1.9" fill="#c49cf0" fill-opacity="1.0"/>
<circle cx="402.4" cy="111.9" r="1.9" fill="#c49cf0" fill-opacity="1.0"/>
<circle cx="408.8" cy="110.9" r="1.9" fill="#c49cf0" fill-opacity="1.0"/>
<circle cx="417.3" cy="110.9" r="1.9" fill="#c49cf0" fill-opacity="1.0"/>
<circle cx="425.8" cy="109.8" r="1.9" fill="#c49cf0" fill-opacity="1.0"/>
<circle cx="434.2" cy="108.8" r="1.9" fill="#c49cf0" fill-opacity="1.0"/>
<circle cx="440.6" cy="104.6" r="1.9" fill="#c49cf0" fill-opacity="1.0"/>
<circle cx="449.1" cy="98.2" r="1.9" fill="#c49cf0" fill-opacity="1.0"/>
<circle cx="455.4" cy="87.7" r="1.9" fill="#c49cf0" fill-opacity="1.0"/>
<circle cx="463.9" cy="96.1" r="1.9" fill="#c49cf0" fill-opacity="1.0"/>
<polyline points="387.6,110.9 394.0,110.9 402.4,110.9 408.8,109.8 417.3,110.9 425.8,110.9 434.2,108.8 440.6,104.6 449.1,94.0 455.4,83.5 463.9,70.8" fill="none" stroke="#c49cf0" stroke-width="1.0" stroke-opacity="1.0"/>
<circle cx="387.6" cy="110.9" r="1.9" fill="#c49cf0" fill-opacity="1.0"/>
<circle cx="394.0" cy="110.9" r="1.9" fill="#c49cf0" fill-opacity="1.0"/>
<circle cx="402.4" cy="110.9" r="1.9" fill="#c49cf0" fill-opacity="1.0"/>
<circle cx="408.8" cy="109.8" r="1.9" fill="#c49cf0" fill-opacity="1.0"/>
<circle cx="417.3" cy="110.9" r="1.9" fill="#c49cf0" fill-opacity="1.0"/>
<circle cx="425.8" cy="110.9" r="1.9" fill="#c49cf0" fill-opacity="1.0"/>
<circle cx="434.2" cy="108.8" r="1.9" fill="#c49cf0" fill-opacity="1.0"/>
<circle cx="440.6" cy="104.6" r="1.9" fill="#c49cf0" fill-opacity="1.0"/>
<circle cx="449.1" cy="94.0" r="1.9" fill="#c49cf0" fill-opacity="1.0"/>
<circle cx="455.4" cy="83.5" r="1.9" fill="#c49cf0" fill-opacity="1.0"/>
<circle cx="463.9" cy="70.8" r="1.9" fill="#c49cf0" fill-opacity="1.0"/>
<polyline points="387.6,115.1 394.0,113.0 402.4,113.0 408.8,111.9 417.3,113.0 425.8,110.9 434.2,108.8 440.6,106.7 449.1,100.3 455.4,94.0 463.9,83.5" fill="none" stroke="#c49cf0" stroke-width="1.0" stroke-opacity="1.0"/>
<circle cx="387.6" cy="115.1" r="1.9" fill="#c49cf0" fill-opacity="1.0"/>
<circle cx="394.0" cy="113.0" r="1.9" fill="#c49cf0" fill-opacity="1.0"/>
<circle cx="402.4" cy="113.0" r="1.9" fill="#c49cf0" fill-opacity="1.0"/>
<circle cx="408.8" cy="111.9" r="1.9" fill="#c49cf0" fill-opacity="1.0"/>
<circle cx="417.3" cy="113.0" r="1.9" fill="#c49cf0" fill-opacity="1.0"/>
<circle cx="425.8" cy="110.9" r="1.9" fill="#c49cf0" fill-opacity="1.0"/>
<circle cx="434.2" cy="108.8" r="1.9" fill="#c49cf0" fill-opacity="1.0"/>
<circle cx="440.6" cy="106.7" r="1.9" fill="#c49cf0" fill-opacity="1.0"/>
<circle cx="449.1" cy="100.3" r="1.9" fill="#c49cf0" fill-opacity="1.0"/>
<circle cx="455.4" cy="94.0" r="1.9" fill="#c49cf0" fill-opacity="1.0"/>
<circle cx="463.9" cy="83.5" r="1.9" fill="#c49cf0" fill-opacity="1.0"/>
<polyline points="387.6,113.0 394.0,111.9 402.4,110.9 408.8,110.9 417.3,110.9 425.8,108.8 434.2,106.7 440.6,102.4 449.1,96.1 455.4,89.8" fill="none" stroke="#c49cf0" stroke-width="1.0" stroke-opacity="1.0"/>
<circle cx="387.6" cy="113.0" r="1.9" fill="#c49cf0" fill-opacity="1.0"/>
<circle cx="394.0" cy="111.9" r="1.9" fill="#c49cf0" fill-opacity="1.0"/>
<circle cx="402.4" cy="110.9" r="1.9" fill="#c49cf0" fill-opacity="1.0"/>
<circle cx="408.8" cy="110.9" r="1.9" fill="#c49cf0" fill-opacity="1.0"/>
<circle cx="417.3" cy="110.9" r="1.9" fill="#c49cf0" fill-opacity="1.0"/>
<circle cx="425.8" cy="108.8" r="1.9" fill="#c49cf0" fill-opacity="1.0"/>
<circle cx="434.2" cy="106.7" r="1.9" fill="#c49cf0" fill-opacity="1.0"/>
<circle cx="440.6" cy="102.4" r="1.9" fill="#c49cf0" fill-opacity="1.0"/>
<circle cx="449.1" cy="96.1" r="1.9" fill="#c49cf0" fill-opacity="1.0"/>
<circle cx="455.4" cy="89.8" r="1.9" fill="#c49cf0" fill-opacity="1.0"/>
<polyline points="387.6,109.8 394.0,108.8 402.4,108.8 408.8,108.8 417.3,107.7 425.8,106.7 434.2,104.6 440.6,100.3 449.1,91.9 455.4,77.1 463.9,42.4 470.3,29.5" fill="none" stroke="#c49cf0" stroke-width="1.0" stroke-opacity="1.0"/>
<circle cx="387.6" cy="109.8" r="1.9" fill="#c49cf0" fill-opacity="1.0"/>
<circle cx="394.0" cy="108.8" r="1.9" fill="#c49cf0" fill-opacity="1.0"/>
<circle cx="402.4" cy="108.8" r="1.9" fill="#c49cf0" fill-opacity="1.0"/>
<circle cx="408.8" cy="108.8" r="1.9" fill="#c49cf0" fill-opacity="1.0"/>
<circle cx="417.3" cy="107.7" r="1.9" fill="#c49cf0" fill-opacity="1.0"/>
<circle cx="425.8" cy="106.7" r="1.9" fill="#c49cf0" fill-opacity="1.0"/>
<circle cx="434.2" cy="104.6" r="1.9" fill="#c49cf0" fill-opacity="1.0"/>
<circle cx="440.6" cy="100.3" r="1.9" fill="#c49cf0" fill-opacity="1.0"/>
<circle cx="449.1" cy="91.9" r="1.9" fill="#c49cf0" fill-opacity="1.0"/>
<circle cx="455.4" cy="77.1" r="1.9" fill="#c49cf0" fill-opacity="1.0"/>
<circle cx="463.9" cy="42.4" r="1.9" fill="#c49cf0" fill-opacity="1.0"/>
<circle cx="470.3" cy="29.5" r="1.9" fill="#c49cf0" fill-opacity="1.0"/>
<polyline points="387.6,114.0 394.0,113.0 402.4,111.9 408.8,113.0 417.3,111.9 425.8,110.9 434.2,109.8 440.6,107.7 449.1,104.6 455.4,100.3 463.9,91.9" fill="none" stroke="#c49cf0" stroke-width="1.0" stroke-opacity="1.0"/>
<circle cx="387.6" cy="114.0" r="1.9" fill="#c49cf0" fill-opacity="1.0"/>
<circle cx="394.0" cy="113.0" r="1.9" fill="#c49cf0" fill-opacity="1.0"/>
<circle cx="402.4" cy="111.9" r="1.9" fill="#c49cf0" fill-opacity="1.0"/>
<circle cx="408.8" cy="113.0" r="1.9" fill="#c49cf0" fill-opacity="1.0"/>
<circle cx="417.3" cy="111.9" r="1.9" fill="#c49cf0" fill-opacity="1.0"/>
<circle cx="425.8" cy="110.9" r="1.9" fill="#c49cf0" fill-opacity="1.0"/>
<circle cx="434.2" cy="109.8" r="1.9" fill="#c49cf0" fill-opacity="1.0"/>
<circle cx="440.6" cy="107.7" r="1.9" fill="#c49cf0" fill-opacity="1.0"/>
<circle cx="449.1" cy="104.6" r="1.9" fill="#c49cf0" fill-opacity="1.0"/>
<circle cx="455.4" cy="100.3" r="1.9" fill="#c49cf0" fill-opacity="1.0"/>
<circle cx="463.9" cy="91.9" r="1.9" fill="#c49cf0" fill-opacity="1.0"/>
<polyline points="387.6,111.9 394.0,110.9 402.4,109.8 408.8,110.9 417.3,113.0 425.8,110.9 434.2,108.8 440.6,104.6 449.1,98.2 455.4,70.4 463.9,54.6 470.3,51.0" fill="none" stroke="#c49cf0" stroke-width="1.0" stroke-opacity="1.0"/>
<circle cx="387.6" cy="111.9" r="1.9" fill="#c49cf0" fill-opacity="1.0"/>
<circle cx="394.0" cy="110.9" r="1.9" fill="#c49cf0" fill-opacity="1.0"/>
<circle cx="402.4" cy="109.8" r="1.9" fill="#c49cf0" fill-opacity="1.0"/>
<circle cx="408.8" cy="110.9" r="1.9" fill="#c49cf0" fill-opacity="1.0"/>
<circle cx="417.3" cy="113.0" r="1.9" fill="#c49cf0" fill-opacity="1.0"/>
<circle cx="425.8" cy="110.9" r="1.9" fill="#c49cf0" fill-opacity="1.0"/>
<circle cx="434.2" cy="108.8" r="1.9" fill="#c49cf0" fill-opacity="1.0"/>
<circle cx="440.6" cy="104.6" r="1.9" fill="#c49cf0" fill-opacity="1.0"/>
<circle cx="449.1" cy="98.2" r="1.9" fill="#c49cf0" fill-opacity="1.0"/>
<circle cx="455.4" cy="70.4" r="1.9" fill="#c49cf0" fill-opacity="1.0"/>
<circle cx="463.9" cy="54.6" r="1.9" fill="#c49cf0" fill-opacity="1.0"/>
<circle cx="470.3" cy="51.0" r="1.9" fill="#c49cf0" fill-opacity="1.0"/>
<polyline points="387.6,110.9 394.0,109.8 402.4,108.8 408.8,107.7 417.3,94.0 425.8,87.7 434.2,72.9 440.6,64.5 449.1,54.0 455.4,42.2 463.9,29.9 470.3,22.8" fill="none" stroke="#111" stroke-width="0.8" stroke-opacity="1.0"/>
<circle cx="387.6" cy="110.9" r="1.7" fill="#111" fill-opacity="1.0"/>
<circle cx="394.0" cy="109.8" r="1.7" fill="#111" fill-opacity="1.0"/>
<circle cx="402.4" cy="108.8" r="1.7" fill="#111" fill-opacity="1.0"/>
<circle cx="408.8" cy="107.7" r="1.7" fill="#111" fill-opacity="1.0"/>
<circle cx="417.3" cy="94.0" r="1.7" fill="#111" fill-opacity="1.0"/>
<circle cx="425.8" cy="87.7" r="1.7" fill="#111" fill-opacity="1.0"/>
<circle cx="434.2" cy="72.9" r="1.7" fill="#111" fill-opacity="1.0"/>
<circle cx="440.6" cy="64.5" r="1.7" fill="#111" fill-opacity="1.0"/>
<circle cx="449.1" cy="54.0" r="1.7" fill="#111" fill-opacity="1.0"/>
<circle cx="455.4" cy="42.2" r="1.7" fill="#111" fill-opacity="1.0"/>
<circle cx="463.9" cy="29.9" r="1.7" fill="#111" fill-opacity="1.0"/>
<circle cx="470.3" cy="22.8" r="1.7" fill="#111" fill-opacity="1.0"/>
<polyline points="387.6,111.9 394.0,110.9 402.4,109.8 408.8,108.8 417.3,98.2 425.8,89.8 434.2,77.1 440.6,68.7 449.1,58.2 455.4,54.0 463.9,41.3 470.3,40.9" fill="none" stroke="#111" stroke-width="0.8" stroke-opacity="1.0"/>
<circle cx="387.6" cy="111.9" r="1.7" fill="#111" fill-opacity="1.0"/>
<circle cx="394.0" cy="110.9" r="1.7" fill="#111" fill-opacity="1.0"/>
<circle cx="402.4" cy="109.8" r="1.7" fill="#111" fill-opacity="1.0"/>
<circle cx="408.8" cy="108.8" r="1.7" fill="#111" fill-opacity="1.0"/>
<circle cx="417.3" cy="98.2" r="1.7" fill="#111" fill-opacity="1.0"/>
<circle cx="425.8" cy="89.8" r="1.7" fill="#111" fill-opacity="1.0"/>
<circle cx="434.2" cy="77.1" r="1.7" fill="#111" fill-opacity="1.0"/>
<circle cx="440.6" cy="68.7" r="1.7" fill="#111" fill-opacity="1.0"/>
<circle cx="449.1" cy="58.2" r="1.7" fill="#111" fill-opacity="1.0"/>
<circle cx="455.4" cy="54.0" r="1.7" fill="#111" fill-opacity="1.0"/>
<circle cx="463.9" cy="41.3" r="1.7" fill="#111" fill-opacity="1.0"/>
<circle cx="470.3" cy="40.9" r="1.7" fill="#111" fill-opacity="1.0"/>
<polyline points="387.6,113.0 394.0,110.9 402.4,108.8 408.8,108.8 417.3,100.3 425.8,91.9 434.2,79.3 440.6,70.8 449.1,60.3 455.4,56.1 463.9,48.1 470.3,44.5" fill="none" stroke="#111" stroke-width="0.8" stroke-opacity="1.0"/>
<circle cx="387.6" cy="113.0" r="1.7" fill="#111" fill-opacity="1.0"/>
<circle cx="394.0" cy="110.9" r="1.7" fill="#111" fill-opacity="1.0"/>
<circle cx="402.4" cy="108.8" r="1.7" fill="#111" fill-opacity="1.0"/>
<circle cx="408.8" cy="108.8" r="1.7" fill="#111" fill-opacity="1.0"/>
<circle cx="417.3" cy="100.3" r="1.7" fill="#111" fill-opacity="1.0"/>
<circle cx="425.8" cy="91.9" r="1.7" fill="#111" fill-opacity="1.0"/>
<circle cx="434.2" cy="79.3" r="1.7" fill="#111" fill-opacity="1.0"/>
<circle cx="440.6" cy="70.8" r="1.7" fill="#111" fill-opacity="1.0"/>
<circle cx="449.1" cy="60.3" r="1.7" fill="#111" fill-opacity="1.0"/>
<circle cx="455.4" cy="56.1" r="1.7" fill="#111" fill-opacity="1.0"/>
<circle cx="463.9" cy="48.1" r="1.7" fill="#111" fill-opacity="1.0"/>
<circle cx="470.3" cy="44.5" r="1.7" fill="#111" fill-opacity="1.0"/>
<polyline points="387.6,113.0 394.0,110.9 402.4,110.9 408.8,109.8 417.3,102.4 425.8,94.0 434.2,83.5 440.6,75.0 449.1,64.5 455.4,58.2 463.9,50.0" fill="none" stroke="#111" stroke-width="0.8" stroke-opacity="1.0"/>
<circle cx="387.6" cy="113.0" r="1.7" fill="#111" fill-opacity="1.0"/>
<circle cx="394.0" cy="110.9" r="1.7" fill="#111" fill-opacity="1.0"/>
<circle cx="402.4" cy="110.9" r="1.7" fill="#111" fill-opacity="1.0"/>
<circle cx="408.8" cy="109.8" r="1.7" fill="#111" fill-opacity="1.0"/>
<circle cx="417.3" cy="102.4" r="1.7" fill="#111" fill-opacity="1.0"/>
<circle cx="425.8" cy="94.0" r="1.7" fill="#111" fill-opacity="1.0"/>
<circle cx="434.2" cy="83.5" r="1.7" fill="#111" fill-opacity="1.0"/>
<circle cx="440.6" cy="75.0" r="1.7" fill="#111" fill-opacity="1.0"/>
<circle cx="449.1" cy="64.5" r="1.7" fill="#111" fill-opacity="1.0"/>
<circle cx="455.4" cy="58.2" r="1.7" fill="#111" fill-opacity="1.0"/>
<circle cx="463.9" cy="50.0" r="1.7" fill="#111" fill-opacity="1.0"/>
<polyline points="387.6,110.9 394.0,110.9 402.4,109.8 408.8,108.8 417.3,104.6 425.8,96.1 434.2,85.6 440.6,77.1 449.1,66.6 455.4,60.3 463.9,47.6" fill="none" stroke="#111" stroke-width="0.8" stroke-opacity="1.0"/>
<circle cx="387.6" cy="110.9" r="1.7" fill="#111" fill-opacity="1.0"/>
<circle cx="394.0" cy="110.9" r="1.7" fill="#111" fill-opacity="1.0"/>
<circle cx="402.4" cy="109.8" r="1.7" fill="#111" fill-opacity="1.0"/>
<circle cx="408.8" cy="108.8" r="1.7" fill="#111" fill-opacity="1.0"/>
<circle cx="417.3" cy="104.6" r="1.7" fill="#111" fill-opacity="1.0"/>
<circle cx="425.8" cy="96.1" r="1.7" fill="#111" fill-opacity="1.0"/>
<circle cx="434.2" cy="85.6" r="1.7" fill="#111" fill-opacity="1.0"/>
<circle cx="440.6" cy="77.1" r="1.7" fill="#111" fill-opacity="1.0"/>
<circle cx="449.1" cy="66.6" r="1.7" fill="#111" fill-opacity="1.0"/>
<circle cx="455.4" cy="60.3" r="1.7" fill="#111" fill-opacity="1.0"/>
<circle cx="463.9" cy="47.6" r="1.7" fill="#111" fill-opacity="1.0"/>
<polyline points="387.6,113.0 394.0,111.9 402.4,110.9 408.8,110.9 417.3,106.7 425.8,98.2 434.2,87.7 440.6,79.3 449.1,70.8 455.4,64.5" fill="none" stroke="#111" stroke-width="0.8" stroke-opacity="1.0"/>
<circle cx="387.6" cy="113.0" r="1.7" fill="#111" fill-opacity="1.0"/>
<circle cx="394.0" cy="111.9" r="1.7" fill="#111" fill-opacity="1.0"/>
<circle cx="402.4" cy="110.9" r="1.7" fill="#111" fill-opacity="1.0"/>
<circle cx="408.8" cy="110.9" r="1.7" fill="#111" fill-opacity="1.0"/>
<circle cx="417.3" cy="106.7" r="1.7" fill="#111" fill-opacity="1.0"/>
<circle cx="425.8" cy="98.2" r="1.7" fill="#111" fill-opacity="1.0"/>
<circle cx="434.2" cy="87.7" r="1.7" fill="#111" fill-opacity="1.0"/>
<circle cx="440.6" cy="79.3" r="1.7" fill="#111" fill-opacity="1.0"/>
<circle cx="449.1" cy="70.8" r="1.7" fill="#111" fill-opacity="1.0"/>
<circle cx="455.4" cy="64.5" r="1.7" fill="#111" fill-opacity="1.0"/>
<polyline points="387.6,115.1 394.0,113.0 402.4,111.9 408.8,110.9 417.3,108.8 425.8,100.3 434.2,89.8 440.6,83.5 449.1,72.9 455.4,68.7 463.9,69.6" fill="none" stroke="#111" stroke-width="0.8" stroke-opacity="1.0"/>
<circle cx="387.6" cy="115.1" r="1.7" fill="#111" fill-opacity="1.0"/>
<circle cx="394.0" cy="113.0" r="1.7" fill="#111" fill-opacity="1.0"/>
<circle cx="402.4" cy="111.9" r="1.7" fill="#111" fill-opacity="1.0"/>
<circle cx="408.8" cy="110.9" r="1.7" fill="#111" fill-opacity="1.0"/>
<circle cx="417.3" cy="108.8" r="1.7" fill="#111" fill-opacity="1.0"/>
<circle cx="425.8" cy="100.3" r="1.7" fill="#111" fill-opacity="1.0"/>
<circle cx="434.2" cy="89.8" r="1.7" fill="#111" fill-opacity="1.0"/>
<circle cx="440.6" cy="83.5" r="1.7" fill="#111" fill-opacity="1.0"/>
<circle cx="449.1" cy="72.9" r="1.7" fill="#111" fill-opacity="1.0"/>
<circle cx="455.4" cy="68.7" r="1.7" fill="#111" fill-opacity="1.0"/>
<circle cx="463.9" cy="69.6" r="1.7" fill="#111" fill-opacity="1.0"/>
<polyline points="387.6,114.0 394.0,113.0 402.4,110.9 408.8,109.8 417.3,108.8 425.8,102.4 434.2,91.9 440.6,85.6 449.1,77.1 455.4,70.8 463.9,73.6" fill="none" stroke="#111" stroke-width="0.8" stroke-opacity="1.0"/>
<circle cx="387.6" cy="114.0" r="1.7" fill="#111" fill-opacity="1.0"/>
<circle cx="394.0" cy="113.0" r="1.7" fill="#111" fill-opacity="1.0"/>
<circle cx="402.4" cy="110.9" r="1.7" fill="#111" fill-opacity="1.0"/>
<circle cx="408.8" cy="109.8" r="1.7" fill="#111" fill-opacity="1.0"/>
<circle cx="417.3" cy="108.8" r="1.7" fill="#111" fill-opacity="1.0"/>
<circle cx="425.8" cy="102.4" r="1.7" fill="#111" fill-opacity="1.0"/>
<circle cx="434.2" cy="91.9" r="1.7" fill="#111" fill-opacity="1.0"/>
<circle cx="440.6" cy="85.6" r="1.7" fill="#111" fill-opacity="1.0"/>
<circle cx="449.1" cy="77.1" r="1.7" fill="#111" fill-opacity="1.0"/>
<circle cx="455.4" cy="70.8" r="1.7" fill="#111" fill-opacity="1.0"/>
<circle cx="463.9" cy="73.6" r="1.7" fill="#111" fill-opacity="1.0"/>
<polyline points="387.6,113.0 394.0,111.9 402.4,110.9 408.8,110.9 417.3,109.8 425.8,104.6 434.2,96.1 440.6,89.8 449.1,83.5 455.4,77.1" fill="none" stroke="#111" stroke-width="0.8" stroke-opacity="1.0"/>
<circle cx="387.6" cy="113.0" r="1.7" fill="#111" fill-opacity="1.0"/>
<circle cx="394.0" cy="111.9" r="1.7" fill="#111" fill-opacity="1.0"/>
<circle cx="402.4" cy="110.9" r="1.7" fill="#111" fill-opacity="1.0"/>
<circle cx="408.8" cy="110.9" r="1.7" fill="#111" fill-opacity="1.0"/>
<circle cx="417.3" cy="109.8" r="1.7" fill="#111" fill-opacity="1.0"/>
<circle cx="425.8" cy="104.6" r="1.7" fill="#111" fill-opacity="1.0"/>
<circle cx="434.2" cy="96.1" r="1.7" fill="#111" fill-opacity="1.0"/>
<circle cx="440.6" cy="89.8" r="1.7" fill="#111" fill-opacity="1.0"/>
<circle cx="449.1" cy="83.5" r="1.7" fill="#111" fill-opacity="1.0"/>
<circle cx="455.4" cy="77.1" r="1.7" fill="#111" fill-opacity="1.0"/>
<polyline points="387.6,111.9 394.0,110.9 402.4,111.9 408.8,110.9 417.3,110.9 425.8,106.7 434.2,98.2 440.6,91.9 449.1,85.6 455.4,82.8" fill="none" stroke="#111" stroke-width="0.8" stroke-opacity="1.0"/>
<circle cx="387.6" cy="111.9" r="1.7" fill="#111" fill-opacity="1.0"/>
<circle cx="394.0" cy="110.9" r="1.7" fill="#111" fill-opacity="1.0"/>
<circle cx="402.4" cy="111.9" r="1.7" fill="#111" fill-opacity="1.0"/>
<circle cx="408.8" cy="110.9" r="1.7" fill="#111" fill-opacity="1.0"/>
<circle cx="417.3" cy="110.9" r="1.7" fill="#111" fill-opacity="1.0"/>
<circle cx="425.8" cy="106.7" r="1.7" fill="#111" fill-opacity="1.0"/>
<circle cx="434.2" cy="98.2" r="1.7" fill="#111" fill-opacity="1.0"/>
<circle cx="440.6" cy="91.9" r="1.7" fill="#111" fill-opacity="1.0"/>
<circle cx="449.1" cy="85.6" r="1.7" fill="#111" fill-opacity="1.0"/>
<circle cx="455.4" cy="82.8" r="1.7" fill="#111" fill-opacity="1.0"/>
<polyline points="387.6,115.1 394.0,114.0 402.4,113.0 408.8,111.9 417.3,111.9 425.8,108.8 434.2,102.4 440.6,96.1 449.1,87.7 455.4,81.4" fill="none" stroke="#111" stroke-width="0.8" stroke-opacity="1.0"/>
<circle cx="387.6" cy="115.1" r="1.7" fill="#111" fill-opacity="1.0"/>
<circle cx="394.0" cy="114.0" r="1.7" fill="#111" fill-opacity="1.0"/>
<circle cx="402.4" cy="113.0" r="1.7" fill="#111" fill-opacity="1.0"/>
<circle cx="408.8" cy="111.9" r="1.7" fill="#111" fill-opacity="1.0"/>
<circle cx="417.3" cy="111.9" r="1.7" fill="#111" fill-opacity="1.0"/>
<circle cx="425.8" cy="108.8" r="1.7" fill="#111" fill-opacity="1.0"/>
<circle cx="434.2" cy="102.4" r="1.7" fill="#111" fill-opacity="1.0"/>
<circle cx="440.6" cy="96.1" r="1.7" fill="#111" fill-opacity="1.0"/>
<circle cx="449.1" cy="87.7" r="1.7" fill="#111" fill-opacity="1.0"/>
<circle cx="455.4" cy="81.4" r="1.7" fill="#111" fill-opacity="1.0"/>
<polyline points="387.6,117.2 394.0,115.1 402.4,113.0 408.8,113.0 417.3,113.0 425.8,109.8 434.2,106.7 440.6,100.3 449.1,87.7 455.4,83.5" fill="none" stroke="#111" stroke-width="0.8" stroke-opacity="1.0"/>
<circle cx="387.6" cy="117.2" r="1.7" fill="#111" fill-opacity="1.0"/>
<circle cx="394.0" cy="115.1" r="1.7" fill="#111" fill-opacity="1.0"/>
<circle cx="402.4" cy="113.0" r="1.7" fill="#111" fill-opacity="1.0"/>
<circle cx="408.8" cy="113.0" r="1.7" fill="#111" fill-opacity="1.0"/>
<circle cx="417.3" cy="113.0" r="1.7" fill="#111" fill-opacity="1.0"/>
<circle cx="425.8" cy="109.8" r="1.7" fill="#111" fill-opacity="1.0"/>
<circle cx="434.2" cy="106.7" r="1.7" fill="#111" fill-opacity="1.0"/>
<circle cx="440.6" cy="100.3" r="1.7" fill="#111" fill-opacity="1.0"/>
<circle cx="449.1" cy="87.7" r="1.7" fill="#111" fill-opacity="1.0"/>
<circle cx="455.4" cy="83.5" r="1.7" fill="#111" fill-opacity="1.0"/>
<polyline points="387.6,113.0 394.0,111.9 402.4,110.9 408.8,109.8 417.3,106.7 425.8,98.2 434.2,83.5 440.6,72.9 449.1,62.4 455.4,54.2" fill="none" stroke="#111" stroke-width="0.8" stroke-opacity="1.0"/>
<circle cx="387.6" cy="113.0" r="1.7" fill="#111" fill-opacity="1.0"/>
<circle cx="394.0" cy="111.9" r="1.7" fill="#111" fill-opacity="1.0"/>
<circle cx="402.4" cy="110.9" r="1.7" fill="#111" fill-opacity="1.0"/>
<circle cx="408.8" cy="109.8" r="1.7" fill="#111" fill-opacity="1.0"/>
<circle cx="417.3" cy="106.7" r="1.7" fill="#111" fill-opacity="1.0"/>
<circle cx="425.8" cy="98.2" r="1.7" fill="#111" fill-opacity="1.0"/>
<circle cx="434.2" cy="83.5" r="1.7" fill="#111" fill-opacity="1.0"/>
<circle cx="440.6" cy="72.9" r="1.7" fill="#111" fill-opacity="1.0"/>
<circle cx="449.1" cy="62.4" r="1.7" fill="#111" fill-opacity="1.0"/>
<circle cx="455.4" cy="54.2" r="1.7" fill="#111" fill-opacity="1.0"/>
<polyline points="387.6,110.9 394.0,110.9 402.4,109.8 408.8,108.8 417.3,100.3 425.8,89.8 434.2,75.0 440.6,66.6 449.1,56.1 455.4,49.7" fill="none" stroke="#111" stroke-width="0.8" stroke-opacity="1.0"/>
<circle cx="387.6" cy="110.9" r="1.7" fill="#111" fill-opacity="1.0"/>
<circle cx="394.0" cy="110.9" r="1.7" fill="#111" fill-opacity="1.0"/>
<circle cx="402.4" cy="109.8" r="1.7" fill="#111" fill-opacity="1.0"/>
<circle cx="408.8" cy="108.8" r="1.7" fill="#111" fill-opacity="1.0"/>
<circle cx="417.3" cy="100.3" r="1.7" fill="#111" fill-opacity="1.0"/>
<circle cx="425.8" cy="89.8" r="1.7" fill="#111" fill-opacity="1.0"/>
<circle cx="434.2" cy="75.0" r="1.7" fill="#111" fill-opacity="1.0"/>
<circle cx="440.6" cy="66.6" r="1.7" fill="#111" fill-opacity="1.0"/>
<circle cx="449.1" cy="56.1" r="1.7" fill="#111" fill-opacity="1.0"/>
<circle cx="455.4" cy="49.7" r="1.7" fill="#111" fill-opacity="1.0"/>
<line x1="391.7" y1="19.4" x2="407.2" y2="19.4" stroke="#111" stroke-width="1.0"/>
<circle cx="400.1" cy="19.4" r="1.6" fill="#111" stroke="none" stroke-width="1.0"/>
<line x1="391.7" y1="29.5" x2="407.2" y2="29.5" stroke="#c49cf0" stroke-width="1.2"/>
<circle cx="400.1" cy="29.5" r="1.8" fill="#c49cf0" stroke="none" stroke-width="1.0"/>
<text x="411.2" y="22.2" font-size="8.9" stroke="#111" stroke-width="0.28" textLength="28.7" lengthAdjust="spacingAndGlyphs">Vehicle</text>
<text x="411.2" y="32.3" font-size="8.9" stroke="#111" stroke-width="0.28" textLength="29.0" lengthAdjust="spacingAndGlyphs">MMP13i</text>
<text x="177.4" y="150.5" font-size="14" stroke="#111" stroke-width="0.28" font-weight="bold">D</text>
<line x1="204.4" y1="156.4" x2="204.4" y2="261.3" stroke="#1a1a1a" stroke-width="1.1"/>
<line x1="203.9" y1="260.8" x2="334.2" y2="260.8" stroke="#1a1a1a" stroke-width="1.1"/>
<line x1="201.4" y1="260.8" x2="204.4" y2="260.8" stroke="#1a1a1a" stroke-width="1.0"/>
<text x="201.1" y="264.1" font-size="9.0" text-anchor="end" stroke="#111" stroke-width="0.28">0</text>
<line x1="201.4" y1="241.8" x2="204.4" y2="241.8" stroke="#1a1a1a" stroke-width="1.0"/>
<text x="201.1" y="245.1" font-size="9.0" text-anchor="end" stroke="#111" stroke-width="0.28">20</text>
<line x1="201.4" y1="222.7" x2="204.4" y2="222.7" stroke="#1a1a1a" stroke-width="1.0"/>
<text x="201.1" y="226.0" font-size="9.0" text-anchor="end" stroke="#111" stroke-width="0.28">40</text>
<line x1="201.4" y1="203.7" x2="204.4" y2="203.7" stroke="#1a1a1a" stroke-width="1.0"/>
<text x="201.1" y="207.0" font-size="9.0" text-anchor="end" stroke="#111" stroke-width="0.28">60</text>
<line x1="201.4" y1="184.6" x2="204.4" y2="184.6" stroke="#1a1a1a" stroke-width="1.0"/>
<text x="201.1" y="187.9" font-size="9.0" text-anchor="end" stroke="#111" stroke-width="0.28">80</text>
<line x1="201.4" y1="165.6" x2="204.4" y2="165.6" stroke="#1a1a1a" stroke-width="1.0"/>
<text x="201.1" y="168.9" font-size="9.0" text-anchor="end" stroke="#111" stroke-width="0.28">100</text>
<line x1="204.4" y1="260.8" x2="204.4" y2="263.8" stroke="#1a1a1a" stroke-width="1.0"/>
<text x="204.4" y="272.7" font-size="9.6" text-anchor="middle" stroke="#111" stroke-width="0.28">25</text>
<line x1="226.0" y1="260.8" x2="226.0" y2="263.8" stroke="#1a1a1a" stroke-width="1.0"/>
<text x="226.0" y="272.7" font-size="9.6" text-anchor="middle" stroke="#111" stroke-width="0.28">30</text>
<line x1="247.7" y1="260.8" x2="247.7" y2="263.8" stroke="#1a1a1a" stroke-width="1.0"/>
<text x="247.7" y="272.7" font-size="9.6" text-anchor="middle" stroke="#111" stroke-width="0.28">35</text>
<line x1="269.3" y1="260.8" x2="269.3" y2="263.8" stroke="#1a1a1a" stroke-width="1.0"/>
<text x="269.3" y="272.7" font-size="9.6" text-anchor="middle" stroke="#111" stroke-width="0.28">40</text>
<line x1="290.9" y1="260.8" x2="290.9" y2="263.8" stroke="#1a1a1a" stroke-width="1.0"/>
<text x="290.9" y="272.7" font-size="9.6" text-anchor="middle" stroke="#111" stroke-width="0.28">45</text>
<line x1="312.6" y1="260.8" x2="312.6" y2="263.8" stroke="#1a1a1a" stroke-width="1.0"/>
<text x="312.6" y="272.7" font-size="9.6" text-anchor="middle" stroke="#111" stroke-width="0.28">50</text>
<line x1="334.2" y1="260.8" x2="334.2" y2="263.8" stroke="#1a1a1a" stroke-width="1.0"/>
<text x="334.2" y="272.7" font-size="9.6" text-anchor="middle" stroke="#111" stroke-width="0.28">55</text>
<text x="270.3" y="281.9" font-size="9.6" text-anchor="middle" stroke="#111" stroke-width="0.28">Days</text>
<text transform="translate(184.1,205.6) rotate(-90)" font-size="9.8" text-anchor="middle" fill="#111" stroke="#111" stroke-width="0.28">Percent survival</text>
<path d="M204.4,165.6 H230.4 V172.4 H247.7 V179.2 H252.0 V186.0 H256.3 V192.8 H260.7 V203.7 H273.6 V209.4 H278.0 V216.1 H286.6 V225.6 H295.3 V232.2 H299.6 V239.3 H312.6 V246.3 H325.6" fill="none" stroke="#c09ae8" stroke-width="1.2"/>
<path d="M204.4,165.6 H230.4 V179.2 H234.7 V186.0 H239.0 V192.8 H243.3 V206.4 H247.7 V220.0 H256.3 V226.8 H260.7 V233.6 H265.0 V247.2 H278.0 V260.8" fill="none" stroke="#1a1a1a" stroke-width="1.2"/>
<text x="302.8" y="181.4" font-size="10.8" text-anchor="middle" stroke="#111" stroke-width="0.28"><tspan font-style="italic">P</tspan> = 0.0026</text>
<text x="303.0" y="194.6" font-size="10.8" text-anchor="middle" stroke="#111" stroke-width="0.28">HR = 0.359</text>
<line x1="211.5" y1="237.3" x2="219.8" y2="237.3" stroke="#1a1a1a" stroke-width="1.2"/>
<line x1="211.5" y1="251.5" x2="219.8" y2="251.5" stroke="#c09ae8" stroke-width="1.2"/>
<text x="222.9" y="240.3" font-size="9.4" stroke="#111" stroke-width="0.28">Vehicle</text>
<text x="222.9" y="254.7" font-size="9.4" stroke="#111" stroke-width="0.28">MMP13i</text>
<text x="345.6" y="150.5" font-size="14" stroke="#111" stroke-width="0.28" font-weight="bold">E</text>
<line x1="382.0" y1="163.2" x2="382.0" y2="266.3" stroke="#1a1a1a" stroke-width="1.1"/>
<line x1="381.5" y1="265.6" x2="510.2" y2="265.6" stroke="#1a1a1a" stroke-width="1.1"/>
<line x1="379.0" y1="265.6" x2="382.0" y2="265.6" stroke="#1a1a1a" stroke-width="1.0"/>
<text x="379.4" y="268.9" font-size="9.0" text-anchor="end" stroke="#111" stroke-width="0.28">0.00</text>
<line x1="379.0" y1="251.2" x2="382.0" y2="251.2" stroke="#1a1a1a" stroke-width="1.0"/>
<text x="379.4" y="254.5" font-size="9.0" text-anchor="end" stroke="#111" stroke-width="0.28">0.01</text>
<line x1="379.0" y1="236.8" x2="382.0" y2="236.8" stroke="#1a1a1a" stroke-width="1.0"/>
<text x="379.4" y="240.1" font-size="9.0" text-anchor="end" stroke="#111" stroke-width="0.28">0.02</text>
<line x1="379.0" y1="222.3" x2="382.0" y2="222.3" stroke="#1a1a1a" stroke-width="1.0"/>
<text x="379.4" y="225.6" font-size="9.0" text-anchor="end" stroke="#111" stroke-width="0.28">0.03</text>
<line x1="379.0" y1="207.9" x2="382.0" y2="207.9" stroke="#1a1a1a" stroke-width="1.0"/>
<text x="379.4" y="211.2" font-size="9.0" text-anchor="end" stroke="#111" stroke-width="0.28">0.04</text>
<line x1="379.0" y1="193.5" x2="382.0" y2="193.5" stroke="#1a1a1a" stroke-width="1.0"/>
<text x="379.4" y="196.8" font-size="9.0" text-anchor="end" stroke="#111" stroke-width="0.28">0.05</text>
<line x1="379.0" y1="179.1" x2="382.0" y2="179.1" stroke="#1a1a1a" stroke-width="1.0"/>
<text x="379.4" y="182.4" font-size="9.0" text-anchor="end" stroke="#111" stroke-width="0.28">0.06</text>
<line x1="379.0" y1="164.7" x2="382.0" y2="164.7" stroke="#1a1a1a" stroke-width="1.0"/>
<text x="379.4" y="168.0" font-size="9.0" text-anchor="end" stroke="#111" stroke-width="0.28">0.07</text>
<text transform="translate(358.1,212.3) rotate(-90)" font-size="9.0" text-anchor="middle" fill="#111" stroke="#111" stroke-width="0.28">BV/TV</text>
<rect x="387.9" y="234.6" width="20.4" height="31.0" fill="#aaaaaa" stroke="#1a1a1a" stroke-width="1.1"/>
<line x1="398.1" y1="237.5" x2="398.1" y2="231.7" stroke="#1a1a1a" stroke-width="1.0"/>
<line x1="394.1" y1="231.7" x2="402.1" y2="231.7" stroke="#1a1a1a" stroke-width="1.0"/>
<line x1="394.1" y1="237.5" x2="402.1" y2="237.5" stroke="#1a1a1a" stroke-width="1.0"/>
<rect x="419.7" y="235.3" width="20.4" height="30.3" fill="#cc82f5" stroke="#1a1a1a" stroke-width="1.1"/>
<line x1="429.9" y1="237.2" x2="429.9" y2="233.4" stroke="#1a1a1a" stroke-width="1.0"/>
<line x1="425.9" y1="233.4" x2="433.9" y2="233.4" stroke="#1a1a1a" stroke-width="1.0"/>
<line x1="425.9" y1="237.2" x2="433.9" y2="237.2" stroke="#1a1a1a" stroke-width="1.0"/>
<rect x="452.2" y="230.3" width="20.4" height="35.3" fill="#aaaaaa" stroke="#1a1a1a" stroke-width="1.1"/>
<line x1="462.4" y1="231.7" x2="462.4" y2="228.8" stroke="#1a1a1a" stroke-width="1.0"/>
<line x1="458.4" y1="228.8" x2="466.4" y2="228.8" stroke="#1a1a1a" stroke-width="1.0"/>
<line x1="458.4" y1="231.7" x2="466.4" y2="231.7" stroke="#1a1a1a" stroke-width="1.0"/>
<rect x="484.0" y="214.4" width="20.4" height="51.2" fill="#cc82f5" stroke="#1a1a1a" stroke-width="1.1"/>
<line x1="494.2" y1="219.5" x2="494.2" y2="209.4" stroke="#1a1a1a" stroke-width="1.0"/>
<line x1="490.2" y1="209.4" x2="498.2" y2="209.4" stroke="#1a1a1a" stroke-width="1.0"/>
<line x1="490.2" y1="219.5" x2="498.2" y2="219.5" stroke="#1a1a1a" stroke-width="1.0"/>
<rect x="389.3" y="168.0" width="7.6" height="7.6" fill="#aaaaaa" stroke="#1a1a1a" stroke-width="1.0"/>
<rect x="389.3" y="180.6" width="7.6" height="7.6" fill="#cc82f5" stroke="#1a1a1a" stroke-width="1.0"/>
<text x="400.6" y="174.7" font-size="8.6" stroke="#111" stroke-width="0.28">Vehicle</text>
<text x="400.6" y="187.8" font-size="8.6" stroke="#111" stroke-width="0.28">MMP13i</text>
<path d="M398.1,227 V217.4 H429.9 V227" fill="none" stroke="#333" stroke-width="0.9"/>
<text x="413.9" y="215.3" font-size="8.6" text-anchor="middle" stroke="#111" stroke-width="0.28">n.s.</text>
<path d="M462.4,205.6 V191.4 H494.2 V197.4" fill="none" stroke="#333" stroke-width="0.9"/>
<circle cx="478.0" cy="182.3" r="1.3" fill="#1a1a1a" stroke="none" stroke-width="1.0"/>
<line x1="446.9" y1="168.7" x2="446.9" y2="269.8" stroke="#111" stroke-width="1.3" stroke-dasharray="1.3,1.2"/>
<path d="M398.1,265.6 V267.6 H429.9 V265.6" fill="none" stroke="#333" stroke-width="0.9"/>
<path d="M462.4,265.6 V267.6 H494.2 V265.6" fill="none" stroke="#333" stroke-width="0.9"/>
<text x="413.6" y="277.8" font-size="8.6" text-anchor="middle" stroke="#111" stroke-width="0.28">5TGM1</text>
<text x="478.0" y="278.3" font-size="8.6" text-anchor="middle" stroke="#111" stroke-width="0.28">Naive</text>
<text x="178.2" y="295.7" font-size="14" stroke="#111" stroke-width="0.28" font-weight="bold">F</text>
<path d="M207.7,488.3 C208.7,490.7 211.1,494.4 216.0,496.7 C220.9,499.0 223.0,500.4 237.0,502.0 C251.0,503.6 279.5,506.0 300.0,506.3 C320.5,506.6 336.7,506.5 360.0,504.0 C383.3,501.5 419.4,495.2 440.0,491.3 C460.6,487.4 472.5,485.0 483.3,480.3 C494.1,475.6 500.1,468.8 505.0,463.0 C509.9,457.2 511.0,452.9 512.6,445.7 C514.2,438.5 514.6,431.2 514.4,419.7 C514.2,408.2 513.7,390.2 511.4,376.5 C509.1,362.8 504.4,347.4 500.5,337.6 C496.6,327.9 493.1,323.2 488.0,318.0 C482.9,312.8 477.2,308.3 470.0,306.5 C462.8,304.7 456.7,307.1 445.0,307.2 C433.3,307.3 410.3,307.3 400.0,307.4 C389.7,307.5 386.4,307.6 383.0,308.0 C379.6,308.4 379.5,309.3 379.5,310.0 C379.5,310.7 379.6,311.1 383.0,312.2 C386.4,313.3 393.7,313.7 400.0,316.5 C406.3,319.3 416.3,321.8 421.0,329.0 C425.7,336.2 426.8,346.5 428.0,360.0 C429.2,373.5 429.3,397.0 428.0,410.0 C426.7,423.0 422.8,432.5 420.0,438.0 C417.2,443.5 426.7,439.7 411.0,443.1 C395.3,446.5 351.2,454.0 326.0,458.6 C300.8,463.2 277.3,467.3 260.0,470.5 C242.7,473.7 230.3,476.0 222.0,478.0 C213.7,480.0 212.4,480.8 210.0,482.5 C207.6,484.2 206.7,485.9 207.7,488.3 Z" fill="#fcf9f1" stroke="#e6e1d6" stroke-width="0.8"/>
<text x="214.5" y="304.2" font-size="10.7" stroke="#111" stroke-width="0.28">Multiple myeloma</text>
<g filter="url(#bl1)">
<polygon points="275.1,319.2 274.3,320.7 274.1,322.3 272.6,323.0 271.4,324.2 269.8,324.0 268.2,324.2 267.0,323.0 265.5,322.3 265.3,320.7 264.5,319.2 265.3,317.7 265.5,316.1 267.0,315.4 268.2,314.2 269.8,314.4 271.4,314.2 272.6,315.4 274.1,316.1 274.3,317.7" fill="#b46e6c" stroke="#9a5a58" stroke-width="0.4" stroke-opacity="0.5" stroke-linejoin="round"/>
<circle cx="269.8" cy="319.2" r="3.8" fill="#b46e6c" stroke="none" stroke-width="1.0" stroke="#ffffff" stroke-opacity="0.12" stroke-width="0.6"/>
<circle cx="269.8" cy="319.2" r="1.9" fill="#9a5856" stroke="none" stroke-width="1.0"/>
<polygon points="246.6,325.0 245.7,326.9 245.3,329.0 243.4,330.0 241.9,331.5 239.8,331.2 237.7,331.5 236.2,330.0 234.3,329.0 233.9,326.9 233.0,325.0 233.9,323.1 234.3,321.0 236.2,320.0 237.7,318.5 239.8,318.8 241.9,318.5 243.4,320.0 245.3,321.0 245.7,323.1" fill="#b87470" stroke="#9a5a58" stroke-width="0.4" stroke-opacity="0.5" stroke-linejoin="round"/>
<circle cx="239.8" cy="325.0" r="4.9" fill="#b87470" stroke="none" stroke-width="1.0" stroke="#ffffff" stroke-opacity="0.12" stroke-width="0.6"/>
<circle cx="239.8" cy="325.0" r="2.5" fill="#9a5856" stroke="none" stroke-width="1.0"/>
<polygon points="258.8,332.5 257.9,334.1 257.7,335.9 256.0,336.7 254.8,338.0 253.0,337.7 251.2,338.0 250.0,336.7 248.3,335.9 248.1,334.1 247.2,332.5 248.1,330.9 248.3,329.1 250.0,328.3 251.2,327.0 253.0,327.3 254.8,327.0 256.0,328.3 257.7,329.1 257.9,330.9" fill="#a8605e" stroke="#9a5a58" stroke-width="0.4" stroke-opacity="0.5" stroke-linejoin="round"/>
<circle cx="253.0" cy="332.5" r="4.1" fill="#a8605e" stroke="none" stroke-width="1.0" stroke="#ffffff" stroke-opacity="0.12" stroke-width="0.6"/>
<circle cx="253.0" cy="332.5" r="2.1" fill="#8e4a48" stroke="none" stroke-width="1.0"/>
<polygon points="287.3,344.6 286.3,346.4 286.0,348.4 284.2,349.3 282.8,350.8 280.8,350.4 278.8,350.8 277.4,349.3 275.6,348.4 275.3,346.4 274.3,344.6 275.3,342.8 275.6,340.8 277.4,339.9 278.8,338.4 280.8,338.8 282.8,338.4 284.2,339.9 286.0,340.8 286.3,342.8" fill="#a65e5c" stroke="#9a5a58" stroke-width="0.4" stroke-opacity="0.5" stroke-linejoin="round"/>
<circle cx="280.8" cy="344.6" r="4.7" fill="#a65e5c" stroke="none" stroke-width="1.0" stroke="#ffffff" stroke-opacity="0.12" stroke-width="0.6"/>
<circle cx="280.8" cy="344.6" r="2.3" fill="#8e4a48" stroke="none" stroke-width="1.0"/>
<polygon points="264.8,357.3 263.7,359.4 263.3,361.8 261.2,362.9 259.5,364.6 257.1,364.2 254.7,364.6 253.0,362.9 250.9,361.8 250.5,359.4 249.4,357.3 250.5,355.2 250.9,352.8 253.0,351.7 254.7,350.0 257.1,350.4 259.5,350.0 261.2,351.7 263.3,352.8 263.7,355.2" fill="#a65c5a" stroke="#9a5a58" stroke-width="0.4" stroke-opacity="0.5" stroke-linejoin="round"/>
<circle cx="257.1" cy="357.3" r="5.5" fill="#a65c5a" stroke="none" stroke-width="1.0" stroke="#ffffff" stroke-opacity="0.12" stroke-width="0.6"/>
<circle cx="257.1" cy="357.3" r="2.8" fill="#8e4a48" stroke="none" stroke-width="1.0"/>
<polygon points="252.2,348.7 251.2,350.7 250.8,352.9 248.8,353.9 247.2,355.5 245.0,355.2 242.8,355.5 241.2,353.9 239.2,352.9 238.8,350.7 237.8,348.7 238.8,346.7 239.2,344.5 241.2,343.5 242.8,341.9 245.0,342.2 247.2,341.9 248.8,343.5 250.8,344.5 251.2,346.7" fill="#c07e78" stroke="#9a5a58" stroke-width="0.4" stroke-opacity="0.5" stroke-linejoin="round"/>
<circle cx="245.0" cy="348.7" r="5.2" fill="#c07e78" stroke="none" stroke-width="1.0" stroke="#ffffff" stroke-opacity="0.12" stroke-width="0.6"/>
<circle cx="245.0" cy="348.7" r="2.6" fill="#a05e5a" stroke="none" stroke-width="1.0"/>
<polygon points="277.6,349.8 276.6,351.8 276.2,354.0 274.2,355.0 272.6,356.6 270.4,356.3 268.2,356.6 266.6,355.0 264.6,354.0 264.2,351.8 263.2,349.8 264.2,347.8 264.6,345.6 266.6,344.6 268.2,343.0 270.4,343.3 272.6,343.0 274.2,344.6 276.2,345.6 276.6,347.8" fill="#c4847c" stroke="#9a5a58" stroke-width="0.4" stroke-opacity="0.5" stroke-linejoin="round"/>
<circle cx="270.4" cy="349.8" r="5.2" fill="#c4847c" stroke="none" stroke-width="1.0" stroke="#ffffff" stroke-opacity="0.12" stroke-width="0.6"/>
<circle cx="270.4" cy="349.8" r="2.6" fill="#a46460" stroke="none" stroke-width="1.0"/>
<polygon points="259.6,322.7 258.5,324.8 258.1,327.2 256.0,328.3 254.3,330.0 251.9,329.6 249.5,330.0 247.8,328.3 245.7,327.2 245.3,324.8 244.2,322.7 245.3,320.6 245.7,318.2 247.8,317.1 249.5,315.4 251.9,315.8 254.3,315.4 256.0,317.1 258.1,318.2 258.5,320.6" fill="#c98c82" stroke="#9a5a58" stroke-width="0.4" stroke-opacity="0.5" stroke-linejoin="round"/>
<circle cx="251.9" cy="322.7" r="5.5" fill="#c98c82" stroke="none" stroke-width="1.0" stroke="#ffffff" stroke-opacity="0.12" stroke-width="0.6"/>
<circle cx="251.9" cy="322.7" r="2.8" fill="#ac6a64" stroke="none" stroke-width="1.0"/>
<polygon points="284.1,333.7 282.8,336.2 282.4,339.1 279.8,340.3 277.8,342.4 275.0,341.9 272.2,342.4 270.2,340.3 267.6,339.1 267.2,336.2 265.9,333.7 267.2,331.2 267.6,328.3 270.2,327.1 272.2,325.0 275.0,325.5 277.8,325.0 279.8,327.1 282.4,328.3 282.8,331.2" fill="#d69c90" stroke="#9a5a58" stroke-width="0.4" stroke-opacity="0.5" stroke-linejoin="round"/>
<circle cx="275.0" cy="333.7" r="6.6" fill="#d69c90" stroke="none" stroke-width="1.0" stroke="#ffffff" stroke-opacity="0.12" stroke-width="0.6"/>
<circle cx="275.0" cy="333.7" r="3.3" fill="#c07a70" stroke="none" stroke-width="1.0"/>
<polygon points="253.0,336.0 251.6,338.7 251.2,341.7 248.4,343.1 246.3,345.2 243.3,344.7 240.3,345.2 238.2,343.1 235.4,341.7 235.0,338.7 233.6,336.0 235.0,333.3 235.4,330.3 238.2,328.9 240.3,326.8 243.3,327.3 246.3,326.8 248.4,328.9 251.2,330.3 251.6,333.3" fill="#e6aa98" stroke="#9a5a58" stroke-width="0.4" stroke-opacity="0.5" stroke-linejoin="round"/>
<circle cx="243.3" cy="336.0" r="7.0" fill="#e6aa98" stroke="none" stroke-width="1.0" stroke="#ffffff" stroke-opacity="0.12" stroke-width="0.6"/>
<circle cx="243.3" cy="336.0" r="3.5" fill="#cc8a7c" stroke="none" stroke-width="1.0"/>
<polygon points="274.6,323.3 273.0,326.2 272.5,329.5 269.6,331.0 267.3,333.3 264.0,332.8 260.7,333.3 258.4,331.0 255.5,329.5 255.0,326.2 253.4,323.3 255.0,320.4 255.5,317.1 258.4,315.6 260.7,313.3 264.0,313.8 267.3,313.3 269.6,315.6 272.5,317.1 273.0,320.4" fill="#e8ae9c" stroke="#9a5a58" stroke-width="0.4" stroke-opacity="0.5" stroke-linejoin="round"/>
<circle cx="264.0" cy="323.3" r="7.6" fill="#e8ae9c" stroke="none" stroke-width="1.0" stroke="#ffffff" stroke-opacity="0.12" stroke-width="0.6"/>
<circle cx="264.0" cy="323.3" r="3.8" fill="#cc8a7a" stroke="none" stroke-width="1.0"/>
<polygon points="271.8,343.5 270.2,346.6 269.6,350.1 266.5,351.6 264.0,354.1 260.6,353.5 257.2,354.1 254.7,351.6 251.6,350.1 251.0,346.6 249.4,343.5 251.0,340.4 251.6,336.9 254.7,335.4 257.2,332.9 260.6,333.5 264.0,332.9 266.5,335.4 269.6,336.9 270.2,340.4" fill="#eab2a0" stroke="#9a5a58" stroke-width="0.4" stroke-opacity="0.5" stroke-linejoin="round"/>
<circle cx="260.6" cy="343.5" r="8.0" fill="#eab2a0" stroke="none" stroke-width="1.0" stroke="#ffffff" stroke-opacity="0.12" stroke-width="0.6"/>
<circle cx="260.6" cy="343.5" r="4.0" fill="#cf8c7c" stroke="none" stroke-width="1.0"/>
</g>
<defs><marker id="ah" viewBox="0 0 10 10" refX="8" refY="5" markerWidth="5" markerHeight="5" orient="auto-start-reverse"><path d="M0,0 L10,5 L0,10 L2.5,5 Z" fill="#111"/></marker></defs>
<path d="M414.5,334 C400,326 386,321 366,318.4 C346,316 320,316.5 300,323.8" fill="none" stroke="#222" stroke-width="1.35" stroke-dasharray="2.6,2" marker-end="url(#ah)"/>
<text x="319.6" y="308.3" font-size="12.6" text-anchor="middle" stroke="#111" stroke-width="0.28" font-weight="bold">4</text>
<text x="355.3" y="314.2" font-size="8.7" text-anchor="middle" fill="#7892c0" stroke="#7892c0" stroke-width="0.28">Bone-derived</text>
<text x="355.8" y="325.3" font-size="8.7" text-anchor="middle" fill="#7892c0" stroke="#7892c0" stroke-width="0.28">factors</text>
<path d="M264.5,370.5 C272,375 285,375.5 333,375" fill="none" stroke="#222" stroke-width="1.35" stroke-dasharray="2.6,2" marker-end="url(#ah)"/>
<path d="M245,368 C226,382 218,410 228,441.5" fill="none" stroke="#111" stroke-width="1.4" marker-end="url(#ah)"/>
<text x="216.3" y="395.9" font-size="12.8" text-anchor="middle" stroke="#111" stroke-width="0.28">1</text>
<line x1="283.6" y1="395.8" x2="292.6" y2="383.0" stroke="#111" stroke-width="1.3"/>
<line x1="288.7" y1="380.1" x2="296.5" y2="385.9" stroke="#111" stroke-width="1.3"/>
<text x="267.4" y="406.4" font-size="8.9" text-anchor="middle" stroke="#111" stroke-width="0.28">MMP13i</text>
<line x1="288.5" y1="403.6" x2="301.3" y2="407.0" stroke="#111" stroke-width="1.3"/>
<line x1="302.5" y1="402.3" x2="300.3" y2="411.6" stroke="#111" stroke-width="1.3"/>
<text x="268.1" y="423.6" font-size="12.8" text-anchor="middle" stroke="#111" stroke-width="0.28">5</text>
<path d="M296.8,434 C302,410 315,392 336.5,382.8" fill="none" stroke="#111" stroke-width="1.4" marker-end="url(#ah)"/>
<path d="M332.7,450 C342,446 350,436 352.6,420.5" fill="none" stroke="#111" stroke-width="1.4" marker-end="url(#ah)"/>
<path d="M355.3,388.3 L345.5,369.5" fill="none" stroke="#111" stroke-width="1.4" marker-end="url(#ah)"/>
<text x="359.5" y="382.4" font-size="12.8" text-anchor="middle" stroke="#111" stroke-width="0.28">2</text>
<path d="M396,357.4 C406,360 414,364 417.8,372" fill="none" stroke="#111" stroke-width="1.4" marker-end="url(#ah)"/>
<text x="407.3" y="378.1" font-size="12.8" text-anchor="middle" stroke="#111" stroke-width="0.28">3</text>
<rect x="308.9" y="352.7" width="16.9" height="6.4" fill="#f7f9fd" stroke="#a9b8d2" stroke-width="0.9"/>
<rect x="329.3" y="352.7" width="34.4" height="6.4" fill="#e3ebf8" stroke="#97aacb" stroke-width="0.9"/>
<line x1="327.6" y1="347" x2="327.6" y2="363.8" stroke="#222" stroke-width="0.9" stroke-dasharray="1,1.2"/>
<text x="366.3" y="358.8" font-size="8.6" fill="#7db463" stroke="#7db463" stroke-width="0.28">Active</text>
<rect x="329.3" y="394.2" width="16.4" height="7.0" fill="#e3ebf8" stroke="#97aacb" stroke-width="0.9"/>
<rect x="345.7" y="394.2" width="35.2" height="7.0" fill="#e3ebf8" stroke="#97aacb" stroke-width="0.9"/>
<text x="382.4" y="400.6" font-size="9.0" fill="#c45c58" stroke="#c45c58" stroke-width="0.28">Pro</text>
<text x="358.4" y="411.3" font-size="8.3" text-anchor="middle" fill="#7090c0" stroke="#7090c0" stroke-width="0.28">CXCL-7</text>
<text x="222.2" y="461.8" font-size="8.8" text-anchor="middle" fill="#5a84c0" stroke="#5a84c0" stroke-width="0.28">MMP13</text>
<text x="256.4" y="455.0" font-size="8.8" text-anchor="middle" fill="#5a84c0" stroke="#5a84c0" stroke-width="0.28">MMP13</text>
<text x="263.0" y="444.6" font-size="8.8" text-anchor="middle" fill="#5a84c0" stroke="#5a84c0" stroke-width="0.28">MMP13</text>
<text x="301.8" y="448.7" font-size="8.8" text-anchor="middle" fill="#5a84c0" stroke="#5a84c0" stroke-width="0.28">MMP13</text>
<g filter="url(#bl1)">
<polygon points="233.6,473.3 238.5,475.3 233.6,477.3 232.7,477.4 233.1,477.9 232.0,481.4 226.4,480.2 226.5,479.8 226.9,480.2 221.9,484.2 218.9,479.4 219.9,479.3 220.1,479.8 211.5,482.1 214.9,476.7 216.0,477.1 215.8,477.7 204.6,476.4 215.0,473.7 216.3,473.2 216.4,472.4 216.5,466.8 223.5,470.3 222.0,470.9 220.1,470.8 224.0,466.3 228.3,470.7 226.3,470.8 224.7,470.3 231.3,466.4 232.1,472.0 232.3,472.8" fill="#b24848" stroke="#9a3a3c" stroke-width="0.5" stroke-linejoin="round"/>
<ellipse cx="224.5" cy="475.3" rx="3.2" ry="1.9" fill="#8e2f33" transform="rotate(0 224.5 475.3)"/>
<polygon points="260.0,473.0 264.1,477.2 256.1,476.8 255.5,476.5 255.8,476.9 252.6,480.2 247.8,478.0 247.8,477.6 247.5,477.9 240.1,481.0 241.1,475.6 241.8,475.4 241.0,475.5 237.0,473.6 240.8,471.4 242.3,470.7 242.9,469.8 244.5,464.8 250.5,468.0 250.6,468.4 250.8,468.0 257.6,464.1 257.9,469.7 257.1,469.8 257.6,469.5 266.3,469.4 259.9,473.3 259.1,473.1" fill="#b24848" stroke="#9a3a3c" stroke-width="0.5" stroke-linejoin="round"/>
<ellipse cx="250.0" cy="473.0" rx="3.2" ry="1.9" fill="#8e2f33" transform="rotate(-3 250.0 473.0)"/>
<polygon points="288.0,458.7 294.2,459.7 288.8,463.1 288.1,462.9 289.0,462.7 291.1,467.1 283.7,467.0 283.2,466.7 283.4,467.1 279.5,471.4 274.9,468.4 275.9,468.0 276.3,468.5 269.6,471.5 269.8,466.6 270.8,466.6 270.5,467.2 262.1,467.2 268.9,463.0 270.0,462.5 269.6,461.9 268.8,457.0 276.0,458.0 275.6,458.6 274.6,458.5 278.5,454.2 283.1,457.2 281.7,457.6 280.8,457.1 287.8,453.0 287.8,458.6 287.2,459.0" fill="#b24848" stroke="#9a3a3c" stroke-width="0.5" stroke-linejoin="round"/>
<ellipse cx="279.0" cy="462.8" rx="3.2" ry="1.9" fill="#8e2f33" transform="rotate(-11 279.0 462.8)"/>
<polygon points="317.2,452.7 325.9,454.0 316.9,457.3 316.4,456.8 317.4,456.5 319.1,461.0 311.8,460.8 311.7,460.4 312.3,460.6 308.6,465.1 303.9,462.3 304.9,461.9 305.3,462.3 298.2,466.4 298.7,460.8 299.5,460.6 299.0,461.0 292.7,460.3 297.9,456.7 298.7,456.6 298.0,456.5 296.3,452.0 303.6,452.2 304.5,452.3 304.8,451.7 309.4,445.9 313.1,450.8 312.4,451.2 312.6,450.7 321.0,447.4 317.7,453.4 316.7,453.3" fill="#b24848" stroke="#9a3a3c" stroke-width="0.5" stroke-linejoin="round"/>
<ellipse cx="307.7" cy="456.5" rx="3.2" ry="1.9" fill="#8e2f33" transform="rotate(-14 307.7 456.5)"/>
</g>
<text x="312.0" y="485.8" font-size="11.1" text-anchor="middle" stroke="#111" stroke-width="0.28">Mesenchymal</text>
<text x="311.9" y="496.4" font-size="11.1" text-anchor="middle" stroke="#111" stroke-width="0.28">stromal cells</text>
<path d="M424.3,330.7 L423.9,328.8 M426.9,330.1 L426.2,327.1 M429.4,329.5 L428.9,327.0 M432.0,329.0 L431.5,326.9 M434.5,328.8 L436.1,325.9 M436.9,330.0 L438.2,327.6 M439.2,331.3 L440.3,329.3 M441.5,332.5 L443.1,329.5 M443.8,333.8 L445.2,331.2 M446.2,335.0 L447.3,332.8 M448.4,336.3 L449.6,334.8 M450.6,337.9 L452.4,335.4 M452.7,339.5 L454.2,337.4 M454.8,341.1 L456.1,339.4 M456.9,342.7 L458.9,340.0 M459.0,344.3 L460.7,342.0 M460.7,346.2 L462.7,345.1 M461.9,348.5 L465.0,346.9 M463.2,350.8 L465.8,349.4 M464.5,353.2 L466.6,352.0 M465.5,355.5 L467.5,355.4 M465.8,358.2 L468.9,357.9 M466.0,360.8 L468.6,360.6 M466.2,363.4 L468.4,363.2 M466.5,366.1 L469.7,365.8 M466.7,368.7 L469.5,368.4 " stroke="#c87890" stroke-width="1.0" stroke-linecap="round" fill="none"/>
<path d="M466.9,372.8 L468.8,372.7 M467.1,376.3 L470.1,376.1 M467.2,379.8 L469.8,379.6 M467.4,383.3 L469.5,383.2 M467.2,386.7 L470.3,387.3 M466.5,390.2 L469.2,390.7 M465.8,393.6 L468.0,394.0 M465.2,397.1 L468.5,397.7 M463.5,400.0 L465.8,401.8 M461.4,402.8 L463.3,404.3 M459.3,405.6 L460.8,406.8 M456.4,407.7 L458.1,410.2 M453.5,409.6 L454.8,411.7 " stroke="#c87890" stroke-width="1.0" stroke-linecap="round" fill="none"/>
<path d="M452.1,413.9 L454.0,413.7 M452.5,417.8 L455.5,417.5 M452.9,421.6 L455.4,421.4 M453.2,425.5 L455.3,425.3 M452.8,429.3 L456.0,429.8 M452.3,433.1 L454.9,433.5 M451.7,437.0 L453.9,437.3 M451.2,440.8 L454.5,441.3 M449.5,444.2 L451.8,445.8 M447.3,447.3 L449.2,448.7 M445.0,450.5 L446.6,451.6 M442.0,452.6 L442.9,455.5 M438.3,453.6 L439.0,456.1 M434.6,454.7 L435.1,456.7 M430.9,455.8 L431.7,458.8 M427.2,455.1 L426.3,457.6 M423.5,453.8 L422.8,455.9 M419.8,452.6 L418.8,455.8 " stroke="#c87890" stroke-width="1.0" stroke-linecap="round" fill="none"/>
<path d="M423,333 C423,328 430,327 436,330 C448,336 460,345 465,355 C467,360 467.5,366 466.5,371 C458,374 445,375 436,374 C431,373.5 428,371 426,366 C423,358 422,342 423,333 Z" fill="#e9a6b6" stroke="#c9788f" stroke-width="0.6"/>
<path d="M432,374 C440,372 455,371 466.5,371 C468,380 467.5,392 464,400 C460,406 456,409 451.7,410.6 C446,412 440,411 436,407 C431.5,401 430.5,390 430.8,382 C431,377 431,375 432,374 Z" fill="#e9a6b6" stroke="#c9788f" stroke-width="0.6"/>
<path d="M427,408 C436,405 446,406 451.7,410.6 C453,420 453.5,432 451,442 C448,450 440,455 430,456 C421,456 415,450 412.5,442 C410.5,433 411.5,425 415,417 C418,411 422,409 427,408 Z" fill="#e9a6b6" stroke="#c9788f" stroke-width="0.6"/>
<ellipse cx="429.3" cy="346.5" rx="3.12" ry="2.34" transform="rotate(20 429.3 346.5)" fill="#d88aa0" stroke="#c06a84" stroke-width="0.7"/>
<ellipse cx="436.6" cy="351.9" rx="3.12" ry="2.08" transform="rotate(30 436.6 351.9)" fill="#d88aa0" stroke="#c06a84" stroke-width="0.7"/>
<ellipse cx="432.7" cy="356.3" rx="2.99" ry="2.34" transform="rotate(20 432.7 356.3)" fill="#d88aa0" stroke="#c06a84" stroke-width="0.7"/>
<ellipse cx="443" cy="362" rx="2.99" ry="2.21" transform="rotate(60 443 362)" fill="#d88aa0" stroke="#c06a84" stroke-width="0.7"/>
<ellipse cx="451.3" cy="361.6" rx="3.12" ry="2.21" transform="rotate(-30 451.3 361.6)" fill="#d88aa0" stroke="#c06a84" stroke-width="0.7"/>
<ellipse cx="441.2" cy="378.7" rx="2.99" ry="2.08" transform="rotate(40 441.2 378.7)" fill="#d88aa0" stroke="#c06a84" stroke-width="0.7"/>
<ellipse cx="447" cy="381.6" rx="2.86" ry="2.08" transform="rotate(40 447 381.6)" fill="#d88aa0" stroke="#c06a84" stroke-width="0.7"/>
<ellipse cx="438.2" cy="389.4" rx="2.99" ry="2.08" transform="rotate(30 438.2 389.4)" fill="#d88aa0" stroke="#c06a84" stroke-width="0.7"/>
<ellipse cx="441.2" cy="399.2" rx="2.99" ry="2.08" transform="rotate(20 441.2 399.2)" fill="#d88aa0" stroke="#c06a84" stroke-width="0.7"/>
<ellipse cx="433.4" cy="413.9" rx="2.86" ry="1.95" transform="rotate(20 433.4 413.9)" fill="#d88aa0" stroke="#c06a84" stroke-width="0.7"/>
<ellipse cx="423.6" cy="420.7" rx="2.99" ry="2.08" transform="rotate(30 423.6 420.7)" fill="#d88aa0" stroke="#c06a84" stroke-width="0.7"/>
<ellipse cx="429.4" cy="422.7" rx="2.86" ry="1.95" transform="rotate(30 429.4 422.7)" fill="#d88aa0" stroke="#c06a84" stroke-width="0.7"/>
<ellipse cx="419.7" cy="432.5" rx="2.99" ry="2.08" transform="rotate(10 419.7 432.5)" fill="#d88aa0" stroke="#c06a84" stroke-width="0.7"/>
<ellipse cx="423.6" cy="442.2" rx="2.99" ry="2.08" transform="rotate(20 423.6 442.2)" fill="#d88aa0" stroke="#c06a84" stroke-width="0.7"/>
<text x="455.6" y="437.0" font-size="10.0" stroke="#111" stroke-width="0.28">Osteoclasts</text>
<text x="455.6" y="448.2" font-size="10.0" stroke="#111" stroke-width="0.28">and bone</text>
<text x="455.6" y="459.9" font-size="10.0" stroke="#111" stroke-width="0.28">disease</text>
</svg>
</body></html>
